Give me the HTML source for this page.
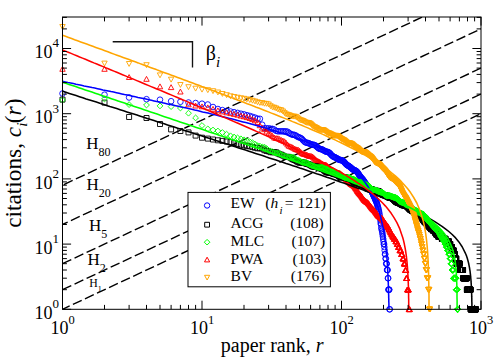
<!DOCTYPE html>
<html><head><meta charset="utf-8"><title>rank-citation profile</title>
<style>
html,body{margin:0;padding:0;background:#fff;}
body{width:498px;height:362px;overflow:hidden;}
svg{display:block;}
text{font-family:"Liberation Serif",serif;fill:#000;}
.tk{font-size:18px;}
.ax{font-size:20px;}
.ay{font-size:23.3px;}
.lg{font-size:15.5px;}
</style></head><body>
<svg width="498" height="362" viewBox="0 0 498 362">
<rect width="498" height="362" fill="#fff"/>
<defs><clipPath id="cp"><rect x="62.5" y="17" width="418.5" height="292.3"/></clipPath></defs>
<g clip-path="url(#cp)" stroke="#000" stroke-width="1.4" stroke-dasharray="9.7 3.6" fill="none">
<path d="M62.5 309.3L481 113.7" stroke-dashoffset="1.8"/>
<path d="M62.5 289.7L481 94.1" stroke-dashoffset="0"/>
<path d="M62.5 263.7L481 68.1" stroke-dashoffset="0"/>
<path d="M62.5 224.5L481 28.9" stroke-dashoffset="4"/>
<path d="M62.5 185.2L481 -10.4" stroke-dashoffset="-1.5"/>
</g>
<path d="M59.7 93.5a2.8 2.8 0 1 0 5.6 0a2.8 2.8 0 1 0 -5.6 0M101.7 94.7a2.8 2.8 0 1 0 5.6 0a2.8 2.8 0 1 0 -5.6 0M126.3 97.5a2.8 2.8 0 1 0 5.6 0a2.8 2.8 0 1 0 -5.6 0M143.7 99.2a2.8 2.8 0 1 0 5.6 0a2.8 2.8 0 1 0 -5.6 0M157.2 99.7a2.8 2.8 0 1 0 5.6 0a2.8 2.8 0 1 0 -5.6 0M168.3 101.2a2.8 2.8 0 1 0 5.6 0a2.8 2.8 0 1 0 -5.6 0M177.6 101.8a2.8 2.8 0 1 0 5.6 0a2.8 2.8 0 1 0 -5.6 0M185.7 102.5a2.8 2.8 0 1 0 5.6 0a2.8 2.8 0 1 0 -5.6 0M192.8 103a2.8 2.8 0 1 0 5.6 0a2.8 2.8 0 1 0 -5.6 0M199.2 103.7a2.8 2.8 0 1 0 5.6 0a2.8 2.8 0 1 0 -5.6 0M205 104.5a2.8 2.8 0 1 0 5.6 0a2.8 2.8 0 1 0 -5.6 0M210.2 107a2.8 2.8 0 1 0 5.6 0a2.8 2.8 0 1 0 -5.6 0M215.1 109a2.8 2.8 0 1 0 5.6 0a2.8 2.8 0 1 0 -5.6 0M219.6 110.1a2.8 2.8 0 1 0 5.6 0a2.8 2.8 0 1 0 -5.6 0M223.8 110.9a2.8 2.8 0 1 0 5.6 0a2.8 2.8 0 1 0 -5.6 0M227.7 111.5a2.8 2.8 0 1 0 5.6 0a2.8 2.8 0 1 0 -5.6 0M231.3 112.2a2.8 2.8 0 1 0 5.6 0a2.8 2.8 0 1 0 -5.6 0M234.8 112.9a2.8 2.8 0 1 0 5.6 0a2.8 2.8 0 1 0 -5.6 0M238.1 113.7a2.8 2.8 0 1 0 5.6 0a2.8 2.8 0 1 0 -5.6 0M241.2 114.4a2.8 2.8 0 1 0 5.6 0a2.8 2.8 0 1 0 -5.6 0M244.1 115.2a2.8 2.8 0 1 0 5.6 0a2.8 2.8 0 1 0 -5.6 0M247 115.9a2.8 2.8 0 1 0 5.6 0a2.8 2.8 0 1 0 -5.6 0M249.7 116.8a2.8 2.8 0 1 0 5.6 0a2.8 2.8 0 1 0 -5.6 0M252.2 117.6a2.8 2.8 0 1 0 5.6 0a2.8 2.8 0 1 0 -5.6 0M254.7 118.6a2.8 2.8 0 1 0 5.6 0a2.8 2.8 0 1 0 -5.6 0M257.1 118.8a2.8 2.8 0 1 0 5.6 0a2.8 2.8 0 1 0 -5.6 0M259.4 124.7a2.8 2.8 0 1 0 5.6 0a2.8 2.8 0 1 0 -5.6 0M261.6 128.3a2.8 2.8 0 1 0 5.6 0a2.8 2.8 0 1 0 -5.6 0M263.7 128.3a2.8 2.8 0 1 0 5.6 0a2.8 2.8 0 1 0 -5.6 0M265.8 128.3a2.8 2.8 0 1 0 5.6 0a2.8 2.8 0 1 0 -5.6 0M267.7 128.7a2.8 2.8 0 1 0 5.6 0a2.8 2.8 0 1 0 -5.6 0M269.7 128.9a2.8 2.8 0 1 0 5.6 0a2.8 2.8 0 1 0 -5.6 0M271.5 129.6a2.8 2.8 0 1 0 5.6 0a2.8 2.8 0 1 0 -5.6 0M273.3 130.8a2.8 2.8 0 1 0 5.6 0a2.8 2.8 0 1 0 -5.6 0M275.1 131.3a2.8 2.8 0 1 0 5.6 0a2.8 2.8 0 1 0 -5.6 0M276.8 131.3a2.8 2.8 0 1 0 5.6 0a2.8 2.8 0 1 0 -5.6 0M278.5 131.3a2.8 2.8 0 1 0 5.6 0a2.8 2.8 0 1 0 -5.6 0M280.1 131.3a2.8 2.8 0 1 0 5.6 0a2.8 2.8 0 1 0 -5.6 0M281.7 131.4a2.8 2.8 0 1 0 5.6 0a2.8 2.8 0 1 0 -5.6 0M283.2 131.4a2.8 2.8 0 1 0 5.6 0a2.8 2.8 0 1 0 -5.6 0M284.7 131.7a2.8 2.8 0 1 0 5.6 0a2.8 2.8 0 1 0 -5.6 0M286.1 132.7a2.8 2.8 0 1 0 5.6 0a2.8 2.8 0 1 0 -5.6 0M287.6 133.8a2.8 2.8 0 1 0 5.6 0a2.8 2.8 0 1 0 -5.6 0M289 134.5a2.8 2.8 0 1 0 5.6 0a2.8 2.8 0 1 0 -5.6 0M290.3 134.7a2.8 2.8 0 1 0 5.6 0a2.8 2.8 0 1 0 -5.6 0M291.7 134.9a2.8 2.8 0 1 0 5.6 0a2.8 2.8 0 1 0 -5.6 0M293 135.5a2.8 2.8 0 1 0 5.6 0a2.8 2.8 0 1 0 -5.6 0M294.2 136.4a2.8 2.8 0 1 0 5.6 0a2.8 2.8 0 1 0 -5.6 0M295.5 137.1a2.8 2.8 0 1 0 5.6 0a2.8 2.8 0 1 0 -5.6 0M296.7 137.5a2.8 2.8 0 1 0 5.6 0a2.8 2.8 0 1 0 -5.6 0M297.9 138a2.8 2.8 0 1 0 5.6 0a2.8 2.8 0 1 0 -5.6 0M299.1 138.9a2.8 2.8 0 1 0 5.6 0a2.8 2.8 0 1 0 -5.6 0M300.2 140.2a2.8 2.8 0 1 0 5.6 0a2.8 2.8 0 1 0 -5.6 0M301.4 141.4a2.8 2.8 0 1 0 5.6 0a2.8 2.8 0 1 0 -5.6 0M302.5 142.3a2.8 2.8 0 1 0 5.6 0a2.8 2.8 0 1 0 -5.6 0M303.6 142.7a2.8 2.8 0 1 0 5.6 0a2.8 2.8 0 1 0 -5.6 0M304.6 142.9a2.8 2.8 0 1 0 5.6 0a2.8 2.8 0 1 0 -5.6 0M305.7 143.1a2.8 2.8 0 1 0 5.6 0a2.8 2.8 0 1 0 -5.6 0M306.7 143.6a2.8 2.8 0 1 0 5.6 0a2.8 2.8 0 1 0 -5.6 0M307.8 144.1a2.8 2.8 0 1 0 5.6 0a2.8 2.8 0 1 0 -5.6 0M308.8 144.5a2.8 2.8 0 1 0 5.6 0a2.8 2.8 0 1 0 -5.6 0M309.7 144.7a2.8 2.8 0 1 0 5.6 0a2.8 2.8 0 1 0 -5.6 0M310.7 144.8a2.8 2.8 0 1 0 5.6 0a2.8 2.8 0 1 0 -5.6 0M311.7 145a2.8 2.8 0 1 0 5.6 0a2.8 2.8 0 1 0 -5.6 0M312.6 145.5a2.8 2.8 0 1 0 5.6 0a2.8 2.8 0 1 0 -5.6 0M313.5 146.2a2.8 2.8 0 1 0 5.6 0a2.8 2.8 0 1 0 -5.6 0M314.4 147.1a2.8 2.8 0 1 0 5.6 0a2.8 2.8 0 1 0 -5.6 0M315.3 147.9a2.8 2.8 0 1 0 5.6 0a2.8 2.8 0 1 0 -5.6 0M316.2 148.6a2.8 2.8 0 1 0 5.6 0a2.8 2.8 0 1 0 -5.6 0M317.1 148.9a2.8 2.8 0 1 0 5.6 0a2.8 2.8 0 1 0 -5.6 0M318 149.1a2.8 2.8 0 1 0 5.6 0a2.8 2.8 0 1 0 -5.6 0M318.8 149.3a2.8 2.8 0 1 0 5.6 0a2.8 2.8 0 1 0 -5.6 0M319.6 149.6a2.8 2.8 0 1 0 5.6 0a2.8 2.8 0 1 0 -5.6 0M320.5 150.1a2.8 2.8 0 1 0 5.6 0a2.8 2.8 0 1 0 -5.6 0M321.3 150.6a2.8 2.8 0 1 0 5.6 0a2.8 2.8 0 1 0 -5.6 0M322.1 151.1a2.8 2.8 0 1 0 5.6 0a2.8 2.8 0 1 0 -5.6 0M322.9 151.5a2.8 2.8 0 1 0 5.6 0a2.8 2.8 0 1 0 -5.6 0M323.6 151.7a2.8 2.8 0 1 0 5.6 0a2.8 2.8 0 1 0 -5.6 0M324.4 151.8a2.8 2.8 0 1 0 5.6 0a2.8 2.8 0 1 0 -5.6 0M325.2 152a2.8 2.8 0 1 0 5.6 0a2.8 2.8 0 1 0 -5.6 0M325.9 152.4a2.8 2.8 0 1 0 5.6 0a2.8 2.8 0 1 0 -5.6 0M326.7 152.9a2.8 2.8 0 1 0 5.6 0a2.8 2.8 0 1 0 -5.6 0M327.4 153.6a2.8 2.8 0 1 0 5.6 0a2.8 2.8 0 1 0 -5.6 0M328.1 154.5a2.8 2.8 0 1 0 5.6 0a2.8 2.8 0 1 0 -5.6 0M328.9 155.3a2.8 2.8 0 1 0 5.6 0a2.8 2.8 0 1 0 -5.6 0M329.6 156a2.8 2.8 0 1 0 5.6 0a2.8 2.8 0 1 0 -5.6 0M330.3 156.5a2.8 2.8 0 1 0 5.6 0a2.8 2.8 0 1 0 -5.6 0M331 156.9a2.8 2.8 0 1 0 5.6 0a2.8 2.8 0 1 0 -5.6 0M331.6 157.1a2.8 2.8 0 1 0 5.6 0a2.8 2.8 0 1 0 -5.6 0M332.3 157.4a2.8 2.8 0 1 0 5.6 0a2.8 2.8 0 1 0 -5.6 0M333 157.7a2.8 2.8 0 1 0 5.6 0a2.8 2.8 0 1 0 -5.6 0M333.6 158a2.8 2.8 0 1 0 5.6 0a2.8 2.8 0 1 0 -5.6 0M334.3 158.5a2.8 2.8 0 1 0 5.6 0a2.8 2.8 0 1 0 -5.6 0M335 158.9a2.8 2.8 0 1 0 5.6 0a2.8 2.8 0 1 0 -5.6 0M335.6 159.3a2.8 2.8 0 1 0 5.6 0a2.8 2.8 0 1 0 -5.6 0M336.2 159.7a2.8 2.8 0 1 0 5.6 0a2.8 2.8 0 1 0 -5.6 0M336.9 159.9a2.8 2.8 0 1 0 5.6 0a2.8 2.8 0 1 0 -5.6 0M337.5 160a2.8 2.8 0 1 0 5.6 0a2.8 2.8 0 1 0 -5.6 0M338.1 160.1a2.8 2.8 0 1 0 5.6 0a2.8 2.8 0 1 0 -5.6 0M338.7 160.2a2.8 2.8 0 1 0 5.6 0a2.8 2.8 0 1 0 -5.6 0M339.3 160.4a2.8 2.8 0 1 0 5.6 0a2.8 2.8 0 1 0 -5.6 0M339.9 160.7a2.8 2.8 0 1 0 5.6 0a2.8 2.8 0 1 0 -5.6 0M340.5 161.1a2.8 2.8 0 1 0 5.6 0a2.8 2.8 0 1 0 -5.6 0M341.1 161.7a2.8 2.8 0 1 0 5.6 0a2.8 2.8 0 1 0 -5.6 0M341.7 162.3a2.8 2.8 0 1 0 5.6 0a2.8 2.8 0 1 0 -5.6 0M342.2 163a2.8 2.8 0 1 0 5.6 0a2.8 2.8 0 1 0 -5.6 0M342.8 163.7a2.8 2.8 0 1 0 5.6 0a2.8 2.8 0 1 0 -5.6 0M343.4 164.2a2.8 2.8 0 1 0 5.6 0a2.8 2.8 0 1 0 -5.6 0M343.9 164.7a2.8 2.8 0 1 0 5.6 0a2.8 2.8 0 1 0 -5.6 0M344.5 165.2a2.8 2.8 0 1 0 5.6 0a2.8 2.8 0 1 0 -5.6 0M345 165.5a2.8 2.8 0 1 0 5.6 0a2.8 2.8 0 1 0 -5.6 0M345.6 165.8a2.8 2.8 0 1 0 5.6 0a2.8 2.8 0 1 0 -5.6 0M346.1 166.1a2.8 2.8 0 1 0 5.6 0a2.8 2.8 0 1 0 -5.6 0M346.6 166.5a2.8 2.8 0 1 0 5.6 0a2.8 2.8 0 1 0 -5.6 0M347.2 166.9a2.8 2.8 0 1 0 5.6 0a2.8 2.8 0 1 0 -5.6 0M347.7 167.3a2.8 2.8 0 1 0 5.6 0a2.8 2.8 0 1 0 -5.6 0M348.2 167.8a2.8 2.8 0 1 0 5.6 0a2.8 2.8 0 1 0 -5.6 0M348.7 168.3a2.8 2.8 0 1 0 5.6 0a2.8 2.8 0 1 0 -5.6 0M349.2 168.7a2.8 2.8 0 1 0 5.6 0a2.8 2.8 0 1 0 -5.6 0M349.7 169.2a2.8 2.8 0 1 0 5.6 0a2.8 2.8 0 1 0 -5.6 0M350.2 169.5a2.8 2.8 0 1 0 5.6 0a2.8 2.8 0 1 0 -5.6 0M350.7 169.8a2.8 2.8 0 1 0 5.6 0a2.8 2.8 0 1 0 -5.6 0M351.2 170a2.8 2.8 0 1 0 5.6 0a2.8 2.8 0 1 0 -5.6 0M351.7 170.2a2.8 2.8 0 1 0 5.6 0a2.8 2.8 0 1 0 -5.6 0M352.2 170.4a2.8 2.8 0 1 0 5.6 0a2.8 2.8 0 1 0 -5.6 0M352.7 170.7a2.8 2.8 0 1 0 5.6 0a2.8 2.8 0 1 0 -5.6 0M353.2 170.9a2.8 2.8 0 1 0 5.6 0a2.8 2.8 0 1 0 -5.6 0M353.7 171.3a2.8 2.8 0 1 0 5.6 0a2.8 2.8 0 1 0 -5.6 0M354.1 171.8a2.8 2.8 0 1 0 5.6 0a2.8 2.8 0 1 0 -5.6 0M354.6 172.3a2.8 2.8 0 1 0 5.6 0a2.8 2.8 0 1 0 -5.6 0M355.1 172.9a2.8 2.8 0 1 0 5.6 0a2.8 2.8 0 1 0 -5.6 0M355.5 173.6a2.8 2.8 0 1 0 5.6 0a2.8 2.8 0 1 0 -5.6 0M356 174.3a2.8 2.8 0 1 0 5.6 0a2.8 2.8 0 1 0 -5.6 0M356.4 175a2.8 2.8 0 1 0 5.6 0a2.8 2.8 0 1 0 -5.6 0M356.9 175.7a2.8 2.8 0 1 0 5.6 0a2.8 2.8 0 1 0 -5.6 0M357.3 176.3a2.8 2.8 0 1 0 5.6 0a2.8 2.8 0 1 0 -5.6 0M357.8 176.9a2.8 2.8 0 1 0 5.6 0a2.8 2.8 0 1 0 -5.6 0M358.2 177.5a2.8 2.8 0 1 0 5.6 0a2.8 2.8 0 1 0 -5.6 0M358.7 178a2.8 2.8 0 1 0 5.6 0a2.8 2.8 0 1 0 -5.6 0M359.1 178.5a2.8 2.8 0 1 0 5.6 0a2.8 2.8 0 1 0 -5.6 0M359.5 178.9a2.8 2.8 0 1 0 5.6 0a2.8 2.8 0 1 0 -5.6 0M359.9 179.4a2.8 2.8 0 1 0 5.6 0a2.8 2.8 0 1 0 -5.6 0M360.4 180a2.8 2.8 0 1 0 5.6 0a2.8 2.8 0 1 0 -5.6 0M360.8 180.5a2.8 2.8 0 1 0 5.6 0a2.8 2.8 0 1 0 -5.6 0M361.2 181.1a2.8 2.8 0 1 0 5.6 0a2.8 2.8 0 1 0 -5.6 0M361.6 181.7a2.8 2.8 0 1 0 5.6 0a2.8 2.8 0 1 0 -5.6 0M362 182.4a2.8 2.8 0 1 0 5.6 0a2.8 2.8 0 1 0 -5.6 0M362.5 183a2.8 2.8 0 1 0 5.6 0a2.8 2.8 0 1 0 -5.6 0M362.9 183.7a2.8 2.8 0 1 0 5.6 0a2.8 2.8 0 1 0 -5.6 0M363.3 184.3a2.8 2.8 0 1 0 5.6 0a2.8 2.8 0 1 0 -5.6 0M363.7 184.9a2.8 2.8 0 1 0 5.6 0a2.8 2.8 0 1 0 -5.6 0M364.1 185.4a2.8 2.8 0 1 0 5.6 0a2.8 2.8 0 1 0 -5.6 0M364.5 185.9a2.8 2.8 0 1 0 5.6 0a2.8 2.8 0 1 0 -5.6 0M364.9 186.3a2.8 2.8 0 1 0 5.6 0a2.8 2.8 0 1 0 -5.6 0M365.3 186.7a2.8 2.8 0 1 0 5.6 0a2.8 2.8 0 1 0 -5.6 0M365.6 187.1a2.8 2.8 0 1 0 5.6 0a2.8 2.8 0 1 0 -5.6 0M366 187.5a2.8 2.8 0 1 0 5.6 0a2.8 2.8 0 1 0 -5.6 0M366.4 187.9a2.8 2.8 0 1 0 5.6 0a2.8 2.8 0 1 0 -5.6 0M366.8 188.3a2.8 2.8 0 1 0 5.6 0a2.8 2.8 0 1 0 -5.6 0M367.2 188.8a2.8 2.8 0 1 0 5.6 0a2.8 2.8 0 1 0 -5.6 0M367.6 189.3a2.8 2.8 0 1 0 5.6 0a2.8 2.8 0 1 0 -5.6 0M367.9 189.9a2.8 2.8 0 1 0 5.6 0a2.8 2.8 0 1 0 -5.6 0M368.3 190.5a2.8 2.8 0 1 0 5.6 0a2.8 2.8 0 1 0 -5.6 0M368.7 191.1a2.8 2.8 0 1 0 5.6 0a2.8 2.8 0 1 0 -5.6 0M369 191.9a2.8 2.8 0 1 0 5.6 0a2.8 2.8 0 1 0 -5.6 0M369.4 192.6a2.8 2.8 0 1 0 5.6 0a2.8 2.8 0 1 0 -5.6 0M369.8 193.4a2.8 2.8 0 1 0 5.6 0a2.8 2.8 0 1 0 -5.6 0M370.1 194.2a2.8 2.8 0 1 0 5.6 0a2.8 2.8 0 1 0 -5.6 0M370.5 195a2.8 2.8 0 1 0 5.6 0a2.8 2.8 0 1 0 -5.6 0M370.8 195.8a2.8 2.8 0 1 0 5.6 0a2.8 2.8 0 1 0 -5.6 0M371.2 196.6a2.8 2.8 0 1 0 5.6 0a2.8 2.8 0 1 0 -5.6 0M371.6 197.3a2.8 2.8 0 1 0 5.6 0a2.8 2.8 0 1 0 -5.6 0M371.9 198.1a2.8 2.8 0 1 0 5.6 0a2.8 2.8 0 1 0 -5.6 0M372.3 198.9a2.8 2.8 0 1 0 5.6 0a2.8 2.8 0 1 0 -5.6 0M372.6 199.7a2.8 2.8 0 1 0 5.6 0a2.8 2.8 0 1 0 -5.6 0M372.9 200.5a2.8 2.8 0 1 0 5.6 0a2.8 2.8 0 1 0 -5.6 0M373.3 201.3a2.8 2.8 0 1 0 5.6 0a2.8 2.8 0 1 0 -5.6 0M373.6 202.2a2.8 2.8 0 1 0 5.6 0a2.8 2.8 0 1 0 -5.6 0M374 203.1a2.8 2.8 0 1 0 5.6 0a2.8 2.8 0 1 0 -5.6 0M374.3 204.1a2.8 2.8 0 1 0 5.6 0a2.8 2.8 0 1 0 -5.6 0M374.6 205.2a2.8 2.8 0 1 0 5.6 0a2.8 2.8 0 1 0 -5.6 0M375 206.4a2.8 2.8 0 1 0 5.6 0a2.8 2.8 0 1 0 -5.6 0M375.3 207.6a2.8 2.8 0 1 0 5.6 0a2.8 2.8 0 1 0 -5.6 0M375.6 209a2.8 2.8 0 1 0 5.6 0a2.8 2.8 0 1 0 -5.6 0M376 210.4a2.8 2.8 0 1 0 5.6 0a2.8 2.8 0 1 0 -5.6 0M376.3 212a2.8 2.8 0 1 0 5.6 0a2.8 2.8 0 1 0 -5.6 0M376.6 213.7a2.8 2.8 0 1 0 5.6 0a2.8 2.8 0 1 0 -5.6 0M376.9 215.8a2.8 2.8 0 1 0 5.6 0a2.8 2.8 0 1 0 -5.6 0M377.3 218.1a2.8 2.8 0 1 0 5.6 0a2.8 2.8 0 1 0 -5.6 0M377.6 220.5a2.8 2.8 0 1 0 5.6 0a2.8 2.8 0 1 0 -5.6 0M377.9 223.1a2.8 2.8 0 1 0 5.6 0a2.8 2.8 0 1 0 -5.6 0M378.2 224.5a2.8 2.8 0 1 0 5.6 0a2.8 2.8 0 1 0 -5.6 0M378.5 227.5a2.8 2.8 0 1 0 5.6 0a2.8 2.8 0 1 0 -5.6 0M378.8 229.1a2.8 2.8 0 1 0 5.6 0a2.8 2.8 0 1 0 -5.6 0M379.2 230.8a2.8 2.8 0 1 0 5.6 0a2.8 2.8 0 1 0 -5.6 0M379.5 232.6a2.8 2.8 0 1 0 5.6 0a2.8 2.8 0 1 0 -5.6 0M379.8 234.6a2.8 2.8 0 1 0 5.6 0a2.8 2.8 0 1 0 -5.6 0M380.1 236.7a2.8 2.8 0 1 0 5.6 0a2.8 2.8 0 1 0 -5.6 0M380.4 238.9a2.8 2.8 0 1 0 5.6 0a2.8 2.8 0 1 0 -5.6 0M380.7 241.4a2.8 2.8 0 1 0 5.6 0a2.8 2.8 0 1 0 -5.6 0M381 244.1a2.8 2.8 0 1 0 5.6 0a2.8 2.8 0 1 0 -5.6 0M381.3 244.1a2.8 2.8 0 1 0 5.6 0a2.8 2.8 0 1 0 -5.6 0M381.6 247.1a2.8 2.8 0 1 0 5.6 0a2.8 2.8 0 1 0 -5.6 0M381.9 250.4a2.8 2.8 0 1 0 5.6 0a2.8 2.8 0 1 0 -5.6 0M382.2 254.2a2.8 2.8 0 1 0 5.6 0a2.8 2.8 0 1 0 -5.6 0M382.5 254.2a2.8 2.8 0 1 0 5.6 0a2.8 2.8 0 1 0 -5.6 0M382.8 258.6a2.8 2.8 0 1 0 5.6 0a2.8 2.8 0 1 0 -5.6 0M383.1 258.6a2.8 2.8 0 1 0 5.6 0a2.8 2.8 0 1 0 -5.6 0M383.4 263.7a2.8 2.8 0 1 0 5.6 0a2.8 2.8 0 1 0 -5.6 0M383.6 263.7a2.8 2.8 0 1 0 5.6 0a2.8 2.8 0 1 0 -5.6 0M383.9 263.7a2.8 2.8 0 1 0 5.6 0a2.8 2.8 0 1 0 -5.6 0M384.2 270a2.8 2.8 0 1 0 5.6 0a2.8 2.8 0 1 0 -5.6 0M384.5 270a2.8 2.8 0 1 0 5.6 0a2.8 2.8 0 1 0 -5.6 0M384.8 270a2.8 2.8 0 1 0 5.6 0a2.8 2.8 0 1 0 -5.6 0M385.1 278.2a2.8 2.8 0 1 0 5.6 0a2.8 2.8 0 1 0 -5.6 0M385.4 278.2a2.8 2.8 0 1 0 5.6 0a2.8 2.8 0 1 0 -5.6 0M385.6 289.7a2.8 2.8 0 1 0 5.6 0a2.8 2.8 0 1 0 -5.6 0M385.9 289.7a2.8 2.8 0 1 0 5.6 0a2.8 2.8 0 1 0 -5.6 0M386.2 289.7a2.8 2.8 0 1 0 5.6 0a2.8 2.8 0 1 0 -5.6 0M386.5 289.7a2.8 2.8 0 1 0 5.6 0a2.8 2.8 0 1 0 -5.6 0M386.7 309.3a2.8 2.8 0 1 0 5.6 0a2.8 2.8 0 1 0 -5.6 0M387 309.3a2.8 2.8 0 1 0 5.6 0a2.8 2.8 0 1 0 -5.6 0" fill="none" stroke="#0000ff" stroke-width="0.9"/>
<path d="M62.5 66.4l2.7 4.9h-5.4zM104.5 66.4l2.7 4.9h-5.4zM129.1 74.6l2.7 4.9h-5.4zM146.5 76.4l2.7 4.9h-5.4zM160 83.9l2.7 4.9h-5.4zM171.1 84.7l2.7 4.9h-5.4zM180.4 89.1l2.7 4.9h-5.4zM188.5 101.9l2.7 4.9h-5.4zM195.6 103.1l2.7 4.9h-5.4zM202 103.9l2.7 4.9h-5.4zM207.8 104.9l2.7 4.9h-5.4zM213 106.4l2.7 4.9h-5.4zM217.9 107.9l2.7 4.9h-5.4zM222.4 109l2.7 4.9h-5.4zM226.6 109.9l2.7 4.9h-5.4zM230.5 110.7l2.7 4.9h-5.4zM234.1 111.5l2.7 4.9h-5.4zM237.6 112.3l2.7 4.9h-5.4zM240.9 113.2l2.7 4.9h-5.4zM244 113.9l2.7 4.9h-5.4zM246.9 114.7l2.7 4.9h-5.4zM249.8 115.6l2.7 4.9h-5.4zM252.5 116.7l2.7 4.9h-5.4zM255 117.9l2.7 4.9h-5.4zM257.5 119.7l2.7 4.9h-5.4zM259.9 122.8l2.7 4.9h-5.4zM262.2 125.2l2.7 4.9h-5.4zM264.4 126.8l2.7 4.9h-5.4zM266.5 129.1l2.7 4.9h-5.4zM268.6 130.8l2.7 4.9h-5.4zM270.5 131.8l2.7 4.9h-5.4zM272.5 133.4l2.7 4.9h-5.4zM274.3 135.1l2.7 4.9h-5.4zM276.1 135.6l2.7 4.9h-5.4zM277.9 135.8l2.7 4.9h-5.4zM279.6 136.5l2.7 4.9h-5.4zM281.3 137.5l2.7 4.9h-5.4zM282.9 138.1l2.7 4.9h-5.4zM284.5 138.8l2.7 4.9h-5.4zM286 140.2l2.7 4.9h-5.4zM287.5 142l2.7 4.9h-5.4zM288.9 143.3l2.7 4.9h-5.4zM290.4 143.9l2.7 4.9h-5.4zM291.8 144.4l2.7 4.9h-5.4zM293.1 145.2l2.7 4.9h-5.4zM294.5 146.1l2.7 4.9h-5.4zM295.8 146.7l2.7 4.9h-5.4zM297 147l2.7 4.9h-5.4zM298.3 147.4l2.7 4.9h-5.4zM299.5 148.3l2.7 4.9h-5.4zM300.7 149.5l2.7 4.9h-5.4zM301.9 150.6l2.7 4.9h-5.4zM303 151.2l2.7 4.9h-5.4zM304.2 151.5l2.7 4.9h-5.4zM305.3 151.7l2.7 4.9h-5.4zM306.4 152.1l2.7 4.9h-5.4zM307.4 152.6l2.7 4.9h-5.4zM308.5 153.1l2.7 4.9h-5.4zM309.5 153.4l2.7 4.9h-5.4zM310.6 153.5l2.7 4.9h-5.4zM311.6 153.7l2.7 4.9h-5.4zM312.5 154.1l2.7 4.9h-5.4zM313.5 154.9l2.7 4.9h-5.4zM314.5 155.9l2.7 4.9h-5.4zM315.4 156.9l2.7 4.9h-5.4zM316.3 157.7l2.7 4.9h-5.4zM317.2 158.3l2.7 4.9h-5.4zM318.1 158.7l2.7 4.9h-5.4zM319 159.1l2.7 4.9h-5.4zM319.9 159.6l2.7 4.9h-5.4zM320.8 160.2l2.7 4.9h-5.4zM321.6 160.9l2.7 4.9h-5.4zM322.4 161.4l2.7 4.9h-5.4zM323.3 161.8l2.7 4.9h-5.4zM324.1 162l2.7 4.9h-5.4zM324.9 162.1l2.7 4.9h-5.4zM325.7 162.3l2.7 4.9h-5.4zM326.4 162.7l2.7 4.9h-5.4zM327.2 163.3l2.7 4.9h-5.4zM328 164.1l2.7 4.9h-5.4zM328.7 164.9l2.7 4.9h-5.4zM329.5 165.7l2.7 4.9h-5.4zM330.2 166.3l2.7 4.9h-5.4zM330.9 166.8l2.7 4.9h-5.4zM331.7 167.1l2.7 4.9h-5.4zM332.4 167.4l2.7 4.9h-5.4zM333.1 167.7l2.7 4.9h-5.4zM333.8 168.2l2.7 4.9h-5.4zM334.4 168.6l2.7 4.9h-5.4zM335.1 169.1l2.7 4.9h-5.4zM335.8 169.6l2.7 4.9h-5.4zM336.4 170l2.7 4.9h-5.4zM337.1 170.2l2.7 4.9h-5.4zM337.8 170.3l2.7 4.9h-5.4zM338.4 170.4l2.7 4.9h-5.4zM339 170.4l2.7 4.9h-5.4zM339.7 170.6l2.7 4.9h-5.4zM340.3 170.9l2.7 4.9h-5.4zM340.9 171.4l2.7 4.9h-5.4zM341.5 172l2.7 4.9h-5.4zM342.1 172.7l2.7 4.9h-5.4zM342.7 173.4l2.7 4.9h-5.4zM343.3 174.1l2.7 4.9h-5.4zM343.9 174.7l2.7 4.9h-5.4zM344.5 175.2l2.7 4.9h-5.4zM345 175.7l2.7 4.9h-5.4zM345.6 176.1l2.7 4.9h-5.4zM346.2 176.5l2.7 4.9h-5.4zM346.7 177l2.7 4.9h-5.4zM347.3 177.5l2.7 4.9h-5.4zM347.8 178.1l2.7 4.9h-5.4zM348.4 178.7l2.7 4.9h-5.4zM348.9 179.4l2.7 4.9h-5.4zM349.4 180l2.7 4.9h-5.4zM350 180.6l2.7 4.9h-5.4zM350.5 181.1l2.7 4.9h-5.4zM351 181.5l2.7 4.9h-5.4zM351.5 181.8l2.7 4.9h-5.4zM352 182.1l2.7 4.9h-5.4zM352.5 182.4l2.7 4.9h-5.4zM353 182.7l2.7 4.9h-5.4zM353.5 183.1l2.7 4.9h-5.4zM354 183.6l2.7 4.9h-5.4zM354.5 184.2l2.7 4.9h-5.4zM355 184.9l2.7 4.9h-5.4zM355.5 185.6l2.7 4.9h-5.4zM356 186.3l2.7 4.9h-5.4zM356.5 187.1l2.7 4.9h-5.4zM356.9 187.9l2.7 4.9h-5.4zM357.4 188.6l2.7 4.9h-5.4zM357.9 189.2l2.7 4.9h-5.4zM358.3 189.8l2.7 4.9h-5.4zM358.8 190.4l2.7 4.9h-5.4zM359.2 190.9l2.7 4.9h-5.4zM359.7 191.4l2.7 4.9h-5.4zM360.1 191.9l2.7 4.9h-5.4zM360.6 192.4l2.7 4.9h-5.4zM361 193l2.7 4.9h-5.4zM361.5 193.6l2.7 4.9h-5.4zM361.9 194.3l2.7 4.9h-5.4zM362.3 194.9l2.7 4.9h-5.4zM362.7 195.6l2.7 4.9h-5.4zM363.2 196.2l2.7 4.9h-5.4zM363.6 196.7l2.7 4.9h-5.4zM364 197.3l2.7 4.9h-5.4zM364.4 197.7l2.7 4.9h-5.4zM364.8 198.1l2.7 4.9h-5.4zM365.3 198.4l2.7 4.9h-5.4zM365.7 198.7l2.7 4.9h-5.4zM366.1 199l2.7 4.9h-5.4zM366.5 199.2l2.7 4.9h-5.4zM366.9 199.5l2.7 4.9h-5.4zM367.3 199.8l2.7 4.9h-5.4zM367.7 200.1l2.7 4.9h-5.4zM368.1 200.5l2.7 4.9h-5.4zM368.4 200.9l2.7 4.9h-5.4zM368.8 201.4l2.7 4.9h-5.4zM369.2 201.9l2.7 4.9h-5.4zM369.6 202.4l2.7 4.9h-5.4zM370 203l2.7 4.9h-5.4zM370.4 203.5l2.7 4.9h-5.4zM370.7 204l2.7 4.9h-5.4zM371.1 204.5l2.7 4.9h-5.4zM371.5 205l2.7 4.9h-5.4zM371.8 205.4l2.7 4.9h-5.4zM372.2 205.8l2.7 4.9h-5.4zM372.6 206.2l2.7 4.9h-5.4zM372.9 206.5l2.7 4.9h-5.4zM373.3 206.9l2.7 4.9h-5.4zM373.6 207.2l2.7 4.9h-5.4zM374 207.6l2.7 4.9h-5.4zM374.4 208l2.7 4.9h-5.4zM374.7 208.4l2.7 4.9h-5.4zM375.1 208.9l2.7 4.9h-5.4zM375.4 209.3l2.7 4.9h-5.4zM375.7 209.8l2.7 4.9h-5.4zM376.1 210.3l2.7 4.9h-5.4zM376.4 210.8l2.7 4.9h-5.4zM376.8 211.3l2.7 4.9h-5.4zM377.1 211.8l2.7 4.9h-5.4zM377.4 212.2l2.7 4.9h-5.4zM377.8 212.6l2.7 4.9h-5.4zM378.1 213l2.7 4.9h-5.4zM378.4 213.3l2.7 4.9h-5.4zM378.8 213.6l2.7 4.9h-5.4zM379.1 213.8l2.7 4.9h-5.4zM379.4 214.1l2.7 4.9h-5.4zM379.7 214.3l2.7 4.9h-5.4zM380.1 214.5l2.7 4.9h-5.4zM380.4 214.7l2.7 4.9h-5.4zM380.7 214.9l2.7 4.9h-5.4zM381 215.2l2.7 4.9h-5.4zM381.3 215.4l2.7 4.9h-5.4zM381.6 215.6l2.7 4.9h-5.4zM382 215.6l2.7 4.9h-5.4zM382.3 216.7l2.7 4.9h-5.4zM382.6 216.7l2.7 4.9h-5.4zM382.9 216.7l2.7 4.9h-5.4zM383.2 217.9l2.7 4.9h-5.4zM383.5 217.9l2.7 4.9h-5.4zM383.8 219.2l2.7 4.9h-5.4zM384.1 219.2l2.7 4.9h-5.4zM384.4 219.2l2.7 4.9h-5.4zM384.7 220.5l2.7 4.9h-5.4zM385 220.5l2.7 4.9h-5.4zM385.3 220.5l2.7 4.9h-5.4zM385.6 221.9l2.7 4.9h-5.4zM385.9 221.9l2.7 4.9h-5.4zM386.2 221.9l2.7 4.9h-5.4zM386.4 221.9l2.7 4.9h-5.4zM386.7 223.3l2.7 4.9h-5.4zM387 223.3l2.7 4.9h-5.4zM387.3 223.3l2.7 4.9h-5.4zM387.6 223.3l2.7 4.9h-5.4zM387.9 224.9l2.7 4.9h-5.4zM388.2 224.9l2.7 4.9h-5.4zM388.4 224.9l2.7 4.9h-5.4zM388.7 226.5l2.7 4.9h-5.4zM389 226.5l2.7 4.9h-5.4zM389.3 226.5l2.7 4.9h-5.4zM389.5 228.2l2.7 4.9h-5.4zM389.8 228.2l2.7 4.9h-5.4zM390.1 228.2l2.7 4.9h-5.4zM390.4 230l2.7 4.9h-5.4zM390.6 230l2.7 4.9h-5.4zM390.9 230l2.7 4.9h-5.4zM391.2 230l2.7 4.9h-5.4zM391.4 232l2.7 4.9h-5.4zM391.7 232l2.7 4.9h-5.4zM392 232l2.7 4.9h-5.4zM392.2 232l2.7 4.9h-5.4zM392.5 234.1l2.7 4.9h-5.4zM392.7 234.1l2.7 4.9h-5.4zM393 234.1l2.7 4.9h-5.4zM393.3 234.1l2.7 4.9h-5.4zM393.5 234.1l2.7 4.9h-5.4zM393.8 234.1l2.7 4.9h-5.4zM394 236.3l2.7 4.9h-5.4zM394.3 236.3l2.7 4.9h-5.4zM394.5 236.3l2.7 4.9h-5.4zM394.8 236.3l2.7 4.9h-5.4zM395 236.3l2.7 4.9h-5.4zM395.3 236.3l2.7 4.9h-5.4zM395.5 238.8l2.7 4.9h-5.4zM395.8 238.8l2.7 4.9h-5.4zM396 238.8l2.7 4.9h-5.4zM396.3 238.8l2.7 4.9h-5.4zM396.5 238.8l2.7 4.9h-5.4zM396.8 238.8l2.7 4.9h-5.4zM397 241.5l2.7 4.9h-5.4zM397.3 241.5l2.7 4.9h-5.4zM397.5 241.5l2.7 4.9h-5.4zM397.7 241.5l2.7 4.9h-5.4zM398 241.5l2.7 4.9h-5.4zM398.2 244.5l2.7 4.9h-5.4zM398.4 244.5l2.7 4.9h-5.4zM398.7 244.5l2.7 4.9h-5.4zM398.9 244.5l2.7 4.9h-5.4zM399.2 244.5l2.7 4.9h-5.4zM399.4 244.5l2.7 4.9h-5.4zM399.6 247.8l2.7 4.9h-5.4zM399.9 247.8l2.7 4.9h-5.4zM400.1 247.8l2.7 4.9h-5.4zM400.3 247.8l2.7 4.9h-5.4zM400.5 247.8l2.7 4.9h-5.4zM400.8 247.8l2.7 4.9h-5.4zM401 247.8l2.7 4.9h-5.4zM401.2 251.6l2.7 4.9h-5.4zM401.5 251.6l2.7 4.9h-5.4zM401.7 251.6l2.7 4.9h-5.4zM401.9 251.6l2.7 4.9h-5.4zM402.1 251.6l2.7 4.9h-5.4zM402.3 251.6l2.7 4.9h-5.4zM402.6 256l2.7 4.9h-5.4zM402.8 256l2.7 4.9h-5.4zM403 256l2.7 4.9h-5.4zM403.2 256l2.7 4.9h-5.4zM403.4 256l2.7 4.9h-5.4zM403.7 256l2.7 4.9h-5.4zM403.9 261.1l2.7 4.9h-5.4zM404.1 261.1l2.7 4.9h-5.4zM404.3 261.1l2.7 4.9h-5.4zM404.5 261.1l2.7 4.9h-5.4zM404.7 261.1l2.7 4.9h-5.4zM405 261.1l2.7 4.9h-5.4zM405.2 267.5l2.7 4.9h-5.4zM405.4 267.5l2.7 4.9h-5.4zM405.6 267.5l2.7 4.9h-5.4zM405.8 267.5l2.7 4.9h-5.4zM406 267.5l2.7 4.9h-5.4zM406.2 275.6l2.7 4.9h-5.4zM406.4 275.6l2.7 4.9h-5.4zM406.6 275.6l2.7 4.9h-5.4zM406.8 275.6l2.7 4.9h-5.4zM407 275.6l2.7 4.9h-5.4zM407.2 287.1l2.7 4.9h-5.4zM407.4 287.1l2.7 4.9h-5.4zM407.7 287.1l2.7 4.9h-5.4zM407.9 287.1l2.7 4.9h-5.4zM408.1 287.1l2.7 4.9h-5.4zM408.3 287.1l2.7 4.9h-5.4zM408.5 287.1l2.7 4.9h-5.4zM408.7 287.1l2.7 4.9h-5.4zM408.9 306.7l2.7 4.9h-5.4zM409.1 306.7l2.7 4.9h-5.4zM409.3 306.7l2.7 4.9h-5.4zM409.5 306.7l2.7 4.9h-5.4zM409.7 306.7l2.7 4.9h-5.4z" fill="none" stroke="#ff0000" stroke-width="0.9"/>
<path d="M60 97.1h5v5h-5zM102 100.1h5v5h-5zM126.6 114.5h5v5h-5zM144 115.5h5v5h-5zM157.5 121.5h5v5h-5zM168.6 126.9h5v5h-5zM177.9 128.5h5v5h-5zM186 129.9h5v5h-5zM193.1 133.1h5v5h-5zM199.5 135.2h5v5h-5zM205.3 136.1h5v5h-5zM210.5 137h5v5h-5zM215.4 137.8h5v5h-5zM219.9 138.4h5v5h-5zM224.1 139h5v5h-5zM228 139.6h5v5h-5zM231.6 140.5h5v5h-5zM235.1 141.4h5v5h-5zM238.4 142.2h5v5h-5zM241.5 142.8h5v5h-5zM244.4 143.4h5v5h-5zM247.3 143.9h5v5h-5zM250 144.6h5v5h-5zM252.5 145.2h5v5h-5zM255 145.8h5v5h-5zM257.4 145.8h5v5h-5zM259.7 146.1h5v5h-5zM261.9 147.7h5v5h-5zM264 148.4h5v5h-5zM266.1 148.8h5v5h-5zM268 149.7h5v5h-5zM270 149.7h5v5h-5zM271.8 149.7h5v5h-5zM273.6 149.8h5v5h-5zM275.4 150.9h5v5h-5zM277.1 151.7h5v5h-5zM278.8 152.2h5v5h-5zM280.4 153h5v5h-5zM282 154h5v5h-5zM283.5 154.4h5v5h-5zM285 154.4h5v5h-5zM286.4 154.4h5v5h-5zM287.9 155.2h5v5h-5zM289.3 156.2h5v5h-5zM290.6 157h5v5h-5zM292 157.5h5v5h-5zM293.3 158.1h5v5h-5zM294.5 158.9h5v5h-5zM295.8 159.7h5v5h-5zM297 160.1h5v5h-5zM298.2 160.1h5v5h-5zM299.4 160.1h5v5h-5zM300.5 160.1h5v5h-5zM301.7 160.1h5v5h-5zM302.8 160.7h5v5h-5zM303.9 161.2h5v5h-5zM304.9 161.5h5v5h-5zM306 161.7h5v5h-5zM307 162.1h5v5h-5zM308.1 162.7h5v5h-5zM309.1 163.4h5v5h-5zM310 163.9h5v5h-5zM311 164.1h5v5h-5zM312 164.1h5v5h-5zM312.9 164.1h5v5h-5zM313.8 164.1h5v5h-5zM314.7 164.1h5v5h-5zM315.6 164.6h5v5h-5zM316.5 165.1h5v5h-5zM317.4 165.6h5v5h-5zM318.3 166h5v5h-5zM319.1 166.3h5v5h-5zM319.9 166.6h5v5h-5zM320.8 167h5v5h-5zM321.6 167.7h5v5h-5zM322.4 168.4h5v5h-5zM323.2 169.1h5v5h-5zM323.9 169.6h5v5h-5zM324.7 169.9h5v5h-5zM325.5 170h5v5h-5zM326.2 170h5v5h-5zM327 170h5v5h-5zM327.7 170h5v5h-5zM328.4 170.1h5v5h-5zM329.2 170.4h5v5h-5zM329.9 170.8h5v5h-5zM330.6 171.1h5v5h-5zM331.3 171.4h5v5h-5zM331.9 171.6h5v5h-5zM332.6 171.7h5v5h-5zM333.3 171.8h5v5h-5zM333.9 172h5v5h-5zM334.6 172.3h5v5h-5zM335.3 172.6h5v5h-5zM335.9 173.1h5v5h-5zM336.5 173.6h5v5h-5zM337.2 174.1h5v5h-5zM337.8 174.5h5v5h-5zM338.4 174.7h5v5h-5zM339 174.8h5v5h-5zM339.6 174.8h5v5h-5zM340.2 174.8h5v5h-5zM340.8 174.8h5v5h-5zM341.4 174.8h5v5h-5zM342 174.8h5v5h-5zM342.5 174.8h5v5h-5zM343.1 175.1h5v5h-5zM343.7 175.3h5v5h-5zM344.2 175.6h5v5h-5zM344.8 175.8h5v5h-5zM345.3 176h5v5h-5zM345.9 176.1h5v5h-5zM346.4 176.2h5v5h-5zM346.9 176.3h5v5h-5zM347.5 176.5h5v5h-5zM348 176.7h5v5h-5zM348.5 177h5v5h-5zM349 177.4h5v5h-5zM349.5 177.8h5v5h-5zM350 178.3h5v5h-5zM350.5 178.8h5v5h-5zM351 179.3h5v5h-5zM351.5 179.7h5v5h-5zM352 180h5v5h-5zM352.5 180.3h5v5h-5zM353 180.4h5v5h-5zM353.5 180.5h5v5h-5zM354 180.6h5v5h-5zM354.4 180.6h5v5h-5zM354.9 180.7h5v5h-5zM355.4 180.8h5v5h-5zM355.8 180.9h5v5h-5zM356.3 181.1h5v5h-5zM356.7 181.3h5v5h-5zM357.2 181.6h5v5h-5zM357.6 181.9h5v5h-5zM358.1 182.1h5v5h-5zM358.5 182.3h5v5h-5zM359 182.5h5v5h-5zM359.4 182.6h5v5h-5zM359.8 182.7h5v5h-5zM360.2 182.8h5v5h-5zM360.7 182.9h5v5h-5zM361.1 183h5v5h-5zM361.5 183.1h5v5h-5zM361.9 183.3h5v5h-5zM362.3 183.5h5v5h-5zM362.8 183.8h5v5h-5zM363.2 184.1h5v5h-5zM363.6 184.5h5v5h-5zM364 184.8h5v5h-5zM364.4 185.2h5v5h-5zM364.8 185.6h5v5h-5zM365.2 185.9h5v5h-5zM365.6 186.2h5v5h-5zM365.9 186.4h5v5h-5zM366.3 186.6h5v5h-5zM366.7 186.7h5v5h-5zM367.1 186.8h5v5h-5zM367.5 186.8h5v5h-5zM367.9 186.9h5v5h-5zM368.2 186.9h5v5h-5zM368.6 186.9h5v5h-5zM369 186.9h5v5h-5zM369.3 187h5v5h-5zM369.7 187.1h5v5h-5zM370.1 187.2h5v5h-5zM370.4 187.3h5v5h-5zM370.8 187.5h5v5h-5zM371.1 187.7h5v5h-5zM371.5 187.8h5v5h-5zM371.9 188h5v5h-5zM372.2 188.1h5v5h-5zM372.6 188.2h5v5h-5zM372.9 188.3h5v5h-5zM373.2 188.3h5v5h-5zM373.6 188.4h5v5h-5zM373.9 188.4h5v5h-5zM374.3 188.4h5v5h-5zM374.6 188.4h5v5h-5zM374.9 188.5h5v5h-5zM375.3 188.5h5v5h-5zM375.6 188.6h5v5h-5zM375.9 188.8h5v5h-5zM376.3 188.9h5v5h-5zM376.6 189.2h5v5h-5zM376.9 189.4h5v5h-5zM377.2 189.7h5v5h-5zM377.6 190h5v5h-5zM377.9 190.3h5v5h-5zM378.2 190.7h5v5h-5zM378.5 191h5v5h-5zM378.8 191.3h5v5h-5zM379.1 191.5h5v5h-5zM379.5 191.8h5v5h-5zM379.8 192h5v5h-5zM380.1 192.2h5v5h-5zM380.4 192.3h5v5h-5zM380.7 192.4h5v5h-5zM381 192.5h5v5h-5zM381.3 192.6h5v5h-5zM381.6 192.7h5v5h-5zM381.9 192.7h5v5h-5zM382.2 192.8h5v5h-5zM382.5 192.9h5v5h-5zM382.8 193h5v5h-5zM383.1 193.1h5v5h-5zM383.4 193.2h5v5h-5zM383.7 193.3h5v5h-5zM383.9 193.5h5v5h-5zM384.2 193.7h5v5h-5zM384.5 193.8h5v5h-5zM384.8 194h5v5h-5zM385.1 194.2h5v5h-5zM385.4 194.4h5v5h-5zM385.7 194.5h5v5h-5zM385.9 194.7h5v5h-5zM386.2 194.8h5v5h-5zM386.5 194.9h5v5h-5zM386.8 195h5v5h-5zM387 195.1h5v5h-5zM387.3 195.1h5v5h-5zM387.6 195.2h5v5h-5zM387.9 195.2h5v5h-5zM388.1 195.2h5v5h-5zM388.4 195.3h5v5h-5zM388.7 195.3h5v5h-5zM388.9 195.4h5v5h-5zM389.2 195.5h5v5h-5zM389.5 195.6h5v5h-5zM389.7 195.7h5v5h-5zM390 195.9h5v5h-5zM390.2 196h5v5h-5zM390.5 196.2h5v5h-5zM390.8 196.5h5v5h-5zM391 196.7h5v5h-5zM391.3 197h5v5h-5zM391.5 197.2h5v5h-5zM391.8 197.5h5v5h-5zM392 197.8h5v5h-5zM392.3 198.1h5v5h-5zM392.5 198.3h5v5h-5zM392.8 198.6h5v5h-5zM393 198.8h5v5h-5zM393.3 199h5v5h-5zM393.5 199.2h5v5h-5zM393.8 199.4h5v5h-5zM394 199.5h5v5h-5zM394.3 199.7h5v5h-5zM394.5 199.8h5v5h-5zM394.8 199.9h5v5h-5zM395 200h5v5h-5zM395.2 200.1h5v5h-5zM395.5 200.1h5v5h-5zM395.7 200.2h5v5h-5zM395.9 200.3h5v5h-5zM396.2 200.4h5v5h-5zM396.4 200.5h5v5h-5zM396.7 200.6h5v5h-5zM396.9 200.7h5v5h-5zM397.1 200.8h5v5h-5zM397.4 200.9h5v5h-5zM397.6 201h5v5h-5zM397.8 201.2h5v5h-5zM398 201.3h5v5h-5zM398.3 201.5h5v5h-5zM398.5 201.6h5v5h-5zM398.7 201.8h5v5h-5zM399 201.9h5v5h-5zM399.2 202h5v5h-5zM399.4 202.2h5v5h-5zM399.6 202.3h5v5h-5zM399.8 202.4h5v5h-5zM400.1 202.5h5v5h-5zM400.3 202.6h5v5h-5zM400.5 202.6h5v5h-5zM400.7 202.7h5v5h-5zM400.9 202.7h5v5h-5zM401.2 202.8h5v5h-5zM401.4 202.8h5v5h-5zM401.6 202.8h5v5h-5zM401.8 202.8h5v5h-5zM402 202.9h5v5h-5zM402.2 202.9h5v5h-5zM402.5 202.9h5v5h-5zM402.7 202.9h5v5h-5zM402.9 203h5v5h-5zM403.1 203h5v5h-5zM403.3 203.1h5v5h-5zM403.5 203.2h5v5h-5zM403.7 203.3h5v5h-5zM403.9 203.4h5v5h-5zM404.1 203.6h5v5h-5zM404.3 203.7h5v5h-5zM404.5 203.9h5v5h-5zM404.7 204.1h5v5h-5zM404.9 204.3h5v5h-5zM405.2 204.5h5v5h-5zM405.4 204.7h5v5h-5zM405.6 204.9h5v5h-5zM405.8 205.1h5v5h-5zM406 205.4h5v5h-5zM406.2 205.6h5v5h-5zM406.4 205.8h5v5h-5zM406.6 206h5v5h-5zM406.8 206.2h5v5h-5zM407 206.4h5v5h-5zM407.2 206.6h5v5h-5zM407.3 206.8h5v5h-5zM407.5 206.9h5v5h-5zM407.7 207.1h5v5h-5zM407.9 207.2h5v5h-5zM408.1 207.4h5v5h-5zM408.3 207.5h5v5h-5zM408.5 207.6h5v5h-5zM408.7 207.7h5v5h-5zM408.9 207.8h5v5h-5zM409.1 207.9h5v5h-5zM409.3 208h5v5h-5zM409.5 208.1h5v5h-5zM409.7 208.2h5v5h-5zM409.8 208.3h5v5h-5zM410 208.4h5v5h-5zM410.2 208.5h5v5h-5zM410.4 208.7h5v5h-5zM410.6 208.8h5v5h-5zM410.8 208.9h5v5h-5zM411 209h5v5h-5zM411.1 209.2h5v5h-5zM411.3 209.3h5v5h-5zM411.5 209.5h5v5h-5zM411.7 209.7h5v5h-5zM411.9 209.8h5v5h-5zM412.1 210h5v5h-5zM412.2 210.2h5v5h-5zM412.4 210.3h5v5h-5zM412.6 210.5h5v5h-5zM412.8 210.7h5v5h-5zM413 210.8h5v5h-5zM413.1 211h5v5h-5zM413.3 211.1h5v5h-5zM413.5 211.3h5v5h-5zM413.7 211.4h5v5h-5zM413.8 211.5h5v5h-5zM414 211.6h5v5h-5zM414.2 211.7h5v5h-5zM414.4 211.8h5v5h-5zM414.6 211.9h5v5h-5zM414.7 212h5v5h-5zM414.9 212.1h5v5h-5zM415.1 212.2h5v5h-5zM415.2 212.2h5v5h-5zM415.4 212.3h5v5h-5zM415.6 212.3h5v5h-5zM415.8 212.4h5v5h-5zM415.9 212.5h5v5h-5zM416.1 212.5h5v5h-5zM416.3 212.6h5v5h-5zM416.4 212.7h5v5h-5zM416.6 212.7h5v5h-5zM416.8 212.8h5v5h-5zM416.9 212.9h5v5h-5zM417.1 213h5v5h-5zM417.3 213.1h5v5h-5zM417.4 213.2h5v5h-5zM417.6 213.4h5v5h-5zM417.8 213.5h5v5h-5zM417.9 213.7h5v5h-5zM418.1 213.8h5v5h-5zM418.3 214h5v5h-5zM418.4 214.2h5v5h-5zM418.6 214.4h5v5h-5zM418.8 214.6h5v5h-5zM418.9 214.8h5v5h-5zM419.1 215h5v5h-5zM419.2 215.3h5v5h-5zM419.4 215.5h5v5h-5zM419.6 215.7h5v5h-5zM419.7 215.7h5v5h-5zM419.9 215.7h5v5h-5zM420 216.8h5v5h-5zM420.2 216.8h5v5h-5zM420.4 216.8h5v5h-5zM420.5 216.8h5v5h-5zM420.7 216.8h5v5h-5zM420.8 218h5v5h-5zM421 218h5v5h-5zM421.1 218h5v5h-5zM421.3 218h5v5h-5zM421.5 218h5v5h-5zM421.6 218h5v5h-5zM421.8 218h5v5h-5zM421.9 219.3h5v5h-5zM422.1 219.3h5v5h-5zM422.2 219.3h5v5h-5zM422.4 219.3h5v5h-5zM422.5 219.3h5v5h-5zM422.7 219.3h5v5h-5zM422.8 219.3h5v5h-5zM423 219.3h5v5h-5zM423.1 220.6h5v5h-5zM423.3 220.6h5v5h-5zM423.4 220.6h5v5h-5zM423.6 220.6h5v5h-5zM423.7 220.6h5v5h-5zM423.9 220.6h5v5h-5zM424 220.6h5v5h-5zM424.2 220.6h5v5h-5zM424.3 220.6h5v5h-5zM424.5 222h5v5h-5zM424.6 222h5v5h-5zM424.8 222h5v5h-5zM424.9 222h5v5h-5zM425.1 222h5v5h-5zM425.2 222h5v5h-5zM425.4 222h5v5h-5zM425.5 222h5v5h-5zM425.7 223.4h5v5h-5zM425.8 223.4h5v5h-5zM425.9 223.4h5v5h-5zM426.1 223.4h5v5h-5zM426.2 223.4h5v5h-5zM426.4 223.4h5v5h-5zM426.5 223.4h5v5h-5zM426.7 223.4h5v5h-5zM426.8 223.4h5v5h-5zM426.9 225h5v5h-5zM427.1 225h5v5h-5zM427.2 225h5v5h-5zM427.4 225h5v5h-5zM427.5 225h5v5h-5zM427.6 225h5v5h-5zM427.8 225h5v5h-5zM427.9 225h5v5h-5zM428.1 225h5v5h-5zM428.2 225h5v5h-5zM428.3 225h5v5h-5zM428.5 226.6h5v5h-5zM428.6 226.6h5v5h-5zM428.8 226.6h5v5h-5zM428.9 226.6h5v5h-5zM429 226.6h5v5h-5zM429.2 226.6h5v5h-5zM429.3 226.6h5v5h-5zM429.4 226.6h5v5h-5zM429.6 226.6h5v5h-5zM429.7 226.6h5v5h-5zM429.9 226.6h5v5h-5zM430 226.6h5v5h-5zM430.1 226.6h5v5h-5zM430.3 226.6h5v5h-5zM430.4 226.6h5v5h-5zM430.5 226.6h5v5h-5zM430.7 228.3h5v5h-5zM430.8 228.3h5v5h-5zM430.9 228.3h5v5h-5zM431.1 228.3h5v5h-5zM431.2 228.3h5v5h-5zM431.3 228.3h5v5h-5zM431.5 228.3h5v5h-5zM431.6 228.3h5v5h-5zM431.7 228.3h5v5h-5zM431.8 228.3h5v5h-5zM432 228.3h5v5h-5zM432.1 228.3h5v5h-5zM432.2 228.3h5v5h-5zM432.4 230.1h5v5h-5zM432.5 230.1h5v5h-5zM432.6 230.1h5v5h-5zM432.8 230.1h5v5h-5zM432.9 230.1h5v5h-5zM433 230.1h5v5h-5zM433.1 230.1h5v5h-5zM433.3 230.1h5v5h-5zM433.4 230.1h5v5h-5zM433.5 230.1h5v5h-5zM433.7 230.1h5v5h-5zM433.8 232.1h5v5h-5zM433.9 232.1h5v5h-5zM434 232.1h5v5h-5zM434.2 232.1h5v5h-5zM434.3 232.1h5v5h-5zM434.4 232.1h5v5h-5zM434.5 232.1h5v5h-5zM434.7 232.1h5v5h-5zM434.8 232.1h5v5h-5zM434.9 232.1h5v5h-5zM435 232.1h5v5h-5zM435.2 232.1h5v5h-5zM435.3 232.1h5v5h-5zM435.4 232.1h5v5h-5zM435.5 232.1h5v5h-5zM435.7 232.1h5v5h-5zM435.8 234.2h5v5h-5zM435.9 234.2h5v5h-5zM436 234.2h5v5h-5zM436.1 234.2h5v5h-5zM436.3 234.2h5v5h-5zM436.4 234.2h5v5h-5zM436.5 234.2h5v5h-5zM436.6 234.2h5v5h-5zM436.7 234.2h5v5h-5zM436.9 234.2h5v5h-5zM437 234.2h5v5h-5zM437.1 234.2h5v5h-5zM437.2 234.2h5v5h-5zM437.3 234.2h5v5h-5zM437.5 234.2h5v5h-5zM437.6 234.2h5v5h-5zM437.7 234.2h5v5h-5zM437.8 234.2h5v5h-5zM437.9 234.2h5v5h-5zM438.1 234.2h5v5h-5zM438.2 234.2h5v5h-5zM438.3 234.2h5v5h-5zM438.4 234.2h5v5h-5zM438.5 234.2h5v5h-5zM438.6 234.2h5v5h-5zM438.8 234.2h5v5h-5zM438.9 234.2h5v5h-5zM439 234.2h5v5h-5zM439.1 234.2h5v5h-5zM439.2 234.2h5v5h-5zM439.3 236.4h5v5h-5zM439.5 236.4h5v5h-5zM439.6 236.4h5v5h-5zM439.7 236.4h5v5h-5zM439.8 236.4h5v5h-5zM439.9 236.4h5v5h-5zM440 236.4h5v5h-5zM440.2 236.4h5v5h-5zM440.3 236.4h5v5h-5zM440.4 236.4h5v5h-5zM440.5 236.4h5v5h-5zM440.6 236.4h5v5h-5zM440.7 236.4h5v5h-5zM440.8 236.4h5v5h-5zM440.9 236.4h5v5h-5zM441.1 236.4h5v5h-5zM441.2 236.4h5v5h-5zM441.3 236.4h5v5h-5zM441.4 236.4h5v5h-5zM441.5 236.4h5v5h-5zM441.6 236.4h5v5h-5zM441.7 236.4h5v5h-5zM441.8 236.4h5v5h-5zM441.9 236.4h5v5h-5zM442.1 236.4h5v5h-5zM442.2 236.4h5v5h-5zM442.3 236.4h5v5h-5zM442.4 236.4h5v5h-5zM442.5 236.4h5v5h-5zM442.6 236.4h5v5h-5zM442.7 236.4h5v5h-5zM442.8 236.4h5v5h-5zM442.9 236.4h5v5h-5zM443 236.4h5v5h-5zM443.2 238.9h5v5h-5zM443.3 238.9h5v5h-5zM443.4 238.9h5v5h-5zM443.5 238.9h5v5h-5zM443.6 238.9h5v5h-5zM443.7 238.9h5v5h-5zM443.8 238.9h5v5h-5zM443.9 238.9h5v5h-5zM444 238.9h5v5h-5zM444.1 238.9h5v5h-5zM444.2 238.9h5v5h-5zM444.3 238.9h5v5h-5zM444.4 238.9h5v5h-5zM444.6 238.9h5v5h-5zM444.7 238.9h5v5h-5zM444.8 238.9h5v5h-5zM444.9 238.9h5v5h-5zM445 238.9h5v5h-5zM445.1 238.9h5v5h-5zM445.2 238.9h5v5h-5zM445.3 238.9h5v5h-5zM445.4 238.9h5v5h-5zM445.5 238.9h5v5h-5zM445.6 238.9h5v5h-5zM445.7 238.9h5v5h-5zM445.8 238.9h5v5h-5zM445.9 238.9h5v5h-5zM446 238.9h5v5h-5zM446.1 238.9h5v5h-5zM446.2 238.9h5v5h-5zM446.3 238.9h5v5h-5zM446.4 238.9h5v5h-5zM446.5 241.6h5v5h-5zM446.6 241.6h5v5h-5zM446.7 241.6h5v5h-5zM446.8 241.6h5v5h-5zM446.9 241.6h5v5h-5zM447 241.6h5v5h-5zM447.1 241.6h5v5h-5zM447.2 241.6h5v5h-5zM447.3 241.6h5v5h-5zM447.5 241.6h5v5h-5zM447.6 241.6h5v5h-5zM447.7 241.6h5v5h-5zM447.8 241.6h5v5h-5zM447.9 244.6h5v5h-5zM448 244.6h5v5h-5zM448.1 244.6h5v5h-5zM448.2 244.6h5v5h-5zM448.3 244.6h5v5h-5zM448.4 244.6h5v5h-5zM448.5 244.6h5v5h-5zM448.6 244.6h5v5h-5zM448.7 244.6h5v5h-5zM448.8 244.6h5v5h-5zM448.9 244.6h5v5h-5zM448.9 244.6h5v5h-5zM449 244.6h5v5h-5zM449.1 244.6h5v5h-5zM449.2 244.6h5v5h-5zM449.3 244.6h5v5h-5zM449.4 244.6h5v5h-5zM449.5 247.9h5v5h-5zM449.6 247.9h5v5h-5zM449.7 247.9h5v5h-5zM449.8 247.9h5v5h-5zM449.9 247.9h5v5h-5zM450 247.9h5v5h-5zM450.1 247.9h5v5h-5zM450.2 247.9h5v5h-5zM450.3 247.9h5v5h-5zM450.4 247.9h5v5h-5zM450.5 247.9h5v5h-5zM450.6 247.9h5v5h-5zM450.7 247.9h5v5h-5zM450.8 247.9h5v5h-5zM450.9 247.9h5v5h-5zM451 247.9h5v5h-5zM451.1 247.9h5v5h-5zM451.2 247.9h5v5h-5zM451.3 251.7h5v5h-5zM451.4 251.7h5v5h-5zM451.5 251.7h5v5h-5zM451.6 251.7h5v5h-5zM451.7 251.7h5v5h-5zM451.7 251.7h5v5h-5zM451.8 251.7h5v5h-5zM451.9 251.7h5v5h-5zM452 251.7h5v5h-5zM452.1 251.7h5v5h-5zM452.2 251.7h5v5h-5zM452.3 251.7h5v5h-5zM452.4 251.7h5v5h-5zM452.5 256.1h5v5h-5zM452.6 256.1h5v5h-5zM452.7 256.1h5v5h-5zM452.8 256.1h5v5h-5zM452.9 256.1h5v5h-5zM453 256.1h5v5h-5zM453.1 256.1h5v5h-5zM453.1 256.1h5v5h-5zM453.2 256.1h5v5h-5zM453.3 256.1h5v5h-5zM453.4 256.1h5v5h-5zM453.5 256.1h5v5h-5zM453.6 256.1h5v5h-5zM453.7 256.1h5v5h-5zM453.8 256.1h5v5h-5zM453.9 261.2h5v5h-5zM454 261.2h5v5h-5zM454.1 261.2h5v5h-5zM454.1 261.2h5v5h-5zM454.2 261.2h5v5h-5zM454.3 261.2h5v5h-5zM454.4 261.2h5v5h-5zM454.5 261.2h5v5h-5zM454.6 261.2h5v5h-5zM454.7 261.2h5v5h-5zM454.8 261.2h5v5h-5zM454.9 261.2h5v5h-5zM455 261.2h5v5h-5zM455 261.2h5v5h-5zM455.1 261.2h5v5h-5zM455.2 261.2h5v5h-5zM455.3 261.2h5v5h-5zM455.4 261.2h5v5h-5zM455.5 261.2h5v5h-5zM455.6 261.2h5v5h-5zM455.7 261.2h5v5h-5zM455.8 261.2h5v5h-5zM455.8 261.2h5v5h-5zM455.9 261.2h5v5h-5zM456 261.2h5v5h-5zM456.1 261.2h5v5h-5zM456.2 261.2h5v5h-5zM456.3 261.2h5v5h-5zM456.4 261.2h5v5h-5zM456.5 261.2h5v5h-5zM456.5 261.2h5v5h-5zM456.6 261.2h5v5h-5zM456.7 261.2h5v5h-5zM456.8 261.2h5v5h-5zM456.9 261.2h5v5h-5zM457 261.2h5v5h-5zM457.1 261.2h5v5h-5zM457.2 261.2h5v5h-5zM457.2 261.2h5v5h-5zM457.3 261.2h5v5h-5zM457.4 267.5h5v5h-5zM457.5 267.5h5v5h-5zM457.6 267.5h5v5h-5zM457.7 267.5h5v5h-5zM457.8 267.5h5v5h-5zM457.8 267.5h5v5h-5zM457.9 267.5h5v5h-5zM458 267.5h5v5h-5zM458.1 267.5h5v5h-5zM458.2 267.5h5v5h-5zM458.3 267.5h5v5h-5zM458.3 267.5h5v5h-5zM458.4 267.5h5v5h-5zM458.5 267.5h5v5h-5zM458.6 267.5h5v5h-5zM458.7 267.5h5v5h-5zM458.8 267.5h5v5h-5zM458.8 267.5h5v5h-5zM458.9 267.5h5v5h-5zM459 267.5h5v5h-5zM459.1 267.5h5v5h-5zM459.2 267.5h5v5h-5zM459.3 267.5h5v5h-5zM459.4 267.5h5v5h-5zM459.4 267.5h5v5h-5zM459.5 267.5h5v5h-5zM459.6 267.5h5v5h-5zM459.7 267.5h5v5h-5zM459.8 267.5h5v5h-5zM459.8 267.5h5v5h-5zM459.9 267.5h5v5h-5zM460 267.5h5v5h-5zM460.1 267.5h5v5h-5zM460.2 267.5h5v5h-5zM460.3 267.5h5v5h-5zM460.3 267.5h5v5h-5zM460.4 267.5h5v5h-5zM460.5 267.5h5v5h-5zM460.6 267.5h5v5h-5zM460.7 275.7h5v5h-5zM460.7 275.7h5v5h-5zM460.8 275.7h5v5h-5zM460.9 275.7h5v5h-5zM461 275.7h5v5h-5zM461.1 275.7h5v5h-5zM461.2 275.7h5v5h-5zM461.2 275.7h5v5h-5zM461.3 275.7h5v5h-5zM461.4 275.7h5v5h-5zM461.5 275.7h5v5h-5zM461.6 275.7h5v5h-5zM461.6 275.7h5v5h-5zM461.7 275.7h5v5h-5zM461.8 275.7h5v5h-5zM461.9 275.7h5v5h-5zM462 275.7h5v5h-5zM462 275.7h5v5h-5zM462.1 275.7h5v5h-5zM462.2 275.7h5v5h-5zM462.3 275.7h5v5h-5zM462.3 275.7h5v5h-5zM462.4 275.7h5v5h-5zM462.5 275.7h5v5h-5zM462.6 275.7h5v5h-5zM462.7 275.7h5v5h-5zM462.7 275.7h5v5h-5zM462.8 275.7h5v5h-5zM462.9 275.7h5v5h-5zM463 275.7h5v5h-5zM463.1 275.7h5v5h-5zM463.1 275.7h5v5h-5zM463.2 275.7h5v5h-5zM463.3 275.7h5v5h-5zM463.4 275.7h5v5h-5zM463.4 275.7h5v5h-5zM463.5 275.7h5v5h-5zM463.6 275.7h5v5h-5zM463.7 275.7h5v5h-5zM463.8 275.7h5v5h-5zM463.8 275.7h5v5h-5zM463.9 275.7h5v5h-5zM464 275.7h5v5h-5zM464.1 275.7h5v5h-5zM464.1 275.7h5v5h-5zM464.2 275.7h5v5h-5zM464.3 275.7h5v5h-5zM464.4 287.2h5v5h-5zM464.4 287.2h5v5h-5zM464.5 287.2h5v5h-5zM464.6 287.2h5v5h-5zM464.7 287.2h5v5h-5zM464.8 287.2h5v5h-5zM464.8 287.2h5v5h-5zM464.9 287.2h5v5h-5zM465 287.2h5v5h-5zM465.1 287.2h5v5h-5zM465.1 287.2h5v5h-5zM465.2 287.2h5v5h-5zM465.3 287.2h5v5h-5zM465.4 287.2h5v5h-5zM465.4 287.2h5v5h-5zM465.5 287.2h5v5h-5zM465.6 287.2h5v5h-5zM465.7 287.2h5v5h-5zM465.7 287.2h5v5h-5zM465.8 287.2h5v5h-5zM465.9 287.2h5v5h-5zM466 287.2h5v5h-5zM466 287.2h5v5h-5zM466.1 287.2h5v5h-5zM466.2 287.2h5v5h-5zM466.3 287.2h5v5h-5zM466.3 287.2h5v5h-5zM466.4 287.2h5v5h-5zM466.5 287.2h5v5h-5zM466.6 287.2h5v5h-5zM466.6 287.2h5v5h-5zM466.7 287.2h5v5h-5zM466.8 287.2h5v5h-5zM466.8 287.2h5v5h-5zM466.9 287.2h5v5h-5zM467 287.2h5v5h-5zM467.1 287.2h5v5h-5zM467.1 287.2h5v5h-5zM467.2 287.2h5v5h-5zM467.3 287.2h5v5h-5zM467.4 287.2h5v5h-5zM467.4 287.2h5v5h-5zM467.5 287.2h5v5h-5zM467.6 287.2h5v5h-5zM467.6 287.2h5v5h-5zM467.7 287.2h5v5h-5zM467.8 287.2h5v5h-5zM467.9 287.2h5v5h-5zM467.9 287.2h5v5h-5zM468 287.2h5v5h-5zM468.1 287.2h5v5h-5zM468.2 306.8h5v5h-5zM468.2 306.8h5v5h-5zM468.3 306.8h5v5h-5zM468.4 306.8h5v5h-5zM468.4 306.8h5v5h-5zM468.5 306.8h5v5h-5zM468.6 306.8h5v5h-5zM468.7 306.8h5v5h-5zM468.7 306.8h5v5h-5zM468.8 306.8h5v5h-5zM468.9 306.8h5v5h-5zM468.9 306.8h5v5h-5zM469 306.8h5v5h-5zM469.1 306.8h5v5h-5zM469.2 306.8h5v5h-5zM469.2 306.8h5v5h-5zM469.3 306.8h5v5h-5zM469.4 306.8h5v5h-5zM469.4 306.8h5v5h-5zM469.5 306.8h5v5h-5zM469.6 306.8h5v5h-5zM469.6 306.8h5v5h-5zM469.7 306.8h5v5h-5zM469.8 306.8h5v5h-5zM469.9 306.8h5v5h-5zM469.9 306.8h5v5h-5zM470 306.8h5v5h-5zM470.1 306.8h5v5h-5zM470.1 306.8h5v5h-5zM470.2 306.8h5v5h-5zM470.3 306.8h5v5h-5zM470.3 306.8h5v5h-5zM470.4 306.8h5v5h-5zM470.5 306.8h5v5h-5zM470.5 306.8h5v5h-5zM470.6 306.8h5v5h-5zM470.7 306.8h5v5h-5zM470.8 306.8h5v5h-5zM470.8 306.8h5v5h-5zM470.9 306.8h5v5h-5zM471 306.8h5v5h-5zM471 306.8h5v5h-5zM471.1 306.8h5v5h-5zM471.2 306.8h5v5h-5zM471.2 306.8h5v5h-5zM471.3 306.8h5v5h-5zM471.4 306.8h5v5h-5zM471.4 306.8h5v5h-5zM471.5 306.8h5v5h-5zM471.6 306.8h5v5h-5zM471.6 306.8h5v5h-5zM471.7 306.8h5v5h-5zM471.8 306.8h5v5h-5zM471.8 306.8h5v5h-5zM471.9 306.8h5v5h-5zM472 306.8h5v5h-5zM472 306.8h5v5h-5zM472.1 306.8h5v5h-5zM472.2 306.8h5v5h-5zM472.3 306.8h5v5h-5zM472.3 306.8h5v5h-5zM472.4 306.8h5v5h-5zM472.5 306.8h5v5h-5zM472.5 306.8h5v5h-5zM472.6 306.8h5v5h-5zM472.7 306.8h5v5h-5zM472.7 306.8h5v5h-5zM472.8 306.8h5v5h-5zM472.9 306.8h5v5h-5zM472.9 306.8h5v5h-5zM473 306.8h5v5h-5zM473.1 306.8h5v5h-5zM473.1 306.8h5v5h-5zM473.2 306.8h5v5h-5zM473.3 306.8h5v5h-5zM473.3 306.8h5v5h-5z" fill="none" stroke="#000000" stroke-width="0.9"/>
<path d="M62.5 91.3L65.9 92.3L69.3 93.4L72.7 94.5L76.1 95.6L79.4 96.7L82.8 97.8L86.2 98.9L89.6 99.9L93 101L96.4 102.1L99.8 103.2L103.2 104.3L106.5 105.4L109.9 106.5L113.3 107.5L116.7 108.6L120.1 109.7L123.5 110.8L126.9 111.9L130.3 113L133.7 114.1L137 115.1L140.4 116.2L143.8 117.3L147.2 118.4L150.6 119.5L154 120.6L157.4 121.7L160.8 122.8L164.2 123.8L167.5 124.9L170.9 126L174.3 127.1L177.7 128.2L181.1 129.3L184.5 130.4L187.9 131.5L191.3 132.6L194.6 133.7L198 134.7L201.4 135.8L204.8 136.9L208.2 138L211.6 139.1L215 140.2L218.4 141.3L221.8 142.4L225.1 143.5L228.5 144.6L231.9 145.7L235.3 146.8L238.7 147.9L242.1 149L245.5 150.1L248.9 151.2L252.2 152.3L255.6 153.4L259 154.5L262.4 155.6L265.8 156.8L269.2 157.9L272.6 159L276 160.1L279.4 161.2L282.7 162.3L286.1 163.5L289.5 164.6L292.9 165.7L296.3 166.8L299.7 168L303.1 169.1L306.5 170.2L309.9 171.4L313.2 172.5L316.6 173.7L320 174.8L323.4 176L326.8 177.2L330.2 178.3L333.6 179.5L337 180.7L340.3 181.9L343.7 183.1L347.1 184.3L350.5 185.5L353.9 186.7L357.3 187.9L360.7 189.1L364.1 190.4L367.5 191.6L370.8 192.9L374.2 194.2L377.6 195.5L381 196.8L384.4 198.1L387.8 199.5L391.2 200.8L394.6 202.2L397.9 203.6L401.3 205.1L404.7 206.5L408.1 208L411.5 209.6L414.9 211.1L418.3 212.8L421.7 214.5L425.1 216.2L428.4 218L431.8 219.9L435.2 221.9L438.6 224.1L442 226.3L445.4 228.8L448.8 231.5L452.2 234.5L455.6 237.9L458.9 241.9L462.3 247L465.7 253.9L465.7 253.9L465.8 254L465.8 254.1L465.8 254.2L465.9 254.2L465.9 254.3L465.9 254.4L466 254.5L466 254.6L466 254.7L466.1 254.8L466.1 254.8L466.1 254.9L466.2 255L466.2 255.1L466.2 255.2L466.3 255.3L466.3 255.4L466.3 255.5L466.4 255.6L466.4 255.7L466.4 255.8L466.5 255.8L466.5 255.9L466.5 256L466.6 256.1L466.6 256.2L466.6 256.3L466.7 256.4L466.7 256.5L466.7 256.6L466.8 256.7L466.8 256.8L466.8 256.9L466.9 257L466.9 257.1L466.9 257.2L467 257.3L467 257.4L467 257.5L467.1 257.6L467.1 257.7L467.1 257.8L467.2 257.9L467.2 258L467.2 258.1L467.3 258.2L467.3 258.3L467.3 258.4L467.4 258.6L467.4 258.7L467.4 258.8L467.5 258.9L467.5 259L467.5 259.1L467.5 259.2L467.6 259.3L467.6 259.4L467.6 259.6L467.7 259.7L467.7 259.8L467.7 259.9L467.8 260L467.8 260.1L467.8 260.3L467.9 260.4L467.9 260.5L467.9 260.6L468 260.7L468 260.9L468 261L468.1 261.1L468.1 261.2L468.1 261.4L468.2 261.5L468.2 261.6L468.2 261.7L468.3 261.9L468.3 262L468.3 262.1L468.4 262.3L468.4 262.4L468.4 262.5L468.5 262.7L468.5 262.8L468.5 262.9L468.6 263.1L468.6 263.2L468.6 263.4L468.7 263.5L468.7 263.7L468.7 263.8L468.8 263.9L468.8 264.1L468.8 264.2L468.8 264.4L468.9 264.5L468.9 264.7L468.9 264.9L469 265L469 265.2L469 265.3L469.1 265.5L469.1 265.7L469.1 265.8L469.2 266L469.2 266.1L469.2 266.3L469.3 266.5L469.3 266.7L469.3 266.8L469.4 267L469.4 267.2L469.4 267.4L469.5 267.5L469.5 267.7L469.5 267.9L469.6 268.1L469.6 268.3L469.6 268.5L469.6 268.7L469.7 268.9L469.7 269.1L469.7 269.3L469.8 269.5L469.8 269.7L469.8 269.9L469.9 270.1L469.9 270.3L469.9 270.5L470 270.8L470 271L470 271.2L470.1 271.4L470.1 271.7L470.1 271.9L470.2 272.2L470.2 272.4L470.2 272.6L470.2 272.9L470.3 273.2L470.3 273.4L470.3 273.7L470.4 273.9L470.4 274.2L470.4 274.5L470.5 274.8L470.5 275.1L470.5 275.4L470.6 275.7L470.6 276L470.6 276.3L470.7 276.6L470.7 276.9L470.7 277.3L470.7 277.6L470.8 277.9L470.8 278.3L470.8 278.7L470.9 279L470.9 279.4L470.9 279.8L471 280.2L471 280.6L471 281L471.1 281.5L471.1 281.9L471.1 282.4L471.1 282.9L471.2 283.3L471.2 283.8L471.2 284.4L471.3 284.9L471.3 285.5L471.3 286.1L471.4 286.7L471.4 287.3L471.4 288L471.5 288.7L471.5 289.4L471.5 290.1L471.5 290.9L471.6 291.8L471.6 292.7L471.6 293.6L471.7 294.7L471.7 295.7L471.7 296.9L471.8 298.2L471.8 299.6L471.8 301.2L471.9 302.9L471.9 304.9L471.9 307.1L471.9 309.3" fill="none" stroke="#000000" stroke-width="1.55" stroke-linejoin="round"/>
<path d="M62.5 97.1l2.9 2.9l-2.9 2.9l-2.9 -2.9zM104.5 96.1l2.9 2.9l-2.9 2.9l-2.9 -2.9zM129.1 101.7l2.9 2.9l-2.9 2.9l-2.9 -2.9zM146.5 102.1l2.9 2.9l-2.9 2.9l-2.9 -2.9zM160 103l2.9 2.9l-2.9 2.9l-2.9 -2.9zM171.1 103.7l2.9 2.9l-2.9 2.9l-2.9 -2.9zM180.4 105.1l2.9 2.9l-2.9 2.9l-2.9 -2.9zM188.5 110.3l2.9 2.9l-2.9 2.9l-2.9 -2.9zM195.6 115l2.9 2.9l-2.9 2.9l-2.9 -2.9zM202 122.6l2.9 2.9l-2.9 2.9l-2.9 -2.9zM207.8 126l2.9 2.9l-2.9 2.9l-2.9 -2.9zM213 127.1l2.9 2.9l-2.9 2.9l-2.9 -2.9zM217.9 128.1l2.9 2.9l-2.9 2.9l-2.9 -2.9zM222.4 129.6l2.9 2.9l-2.9 2.9l-2.9 -2.9zM226.6 131.3l2.9 2.9l-2.9 2.9l-2.9 -2.9zM230.5 132.9l2.9 2.9l-2.9 2.9l-2.9 -2.9zM234.1 134.1l2.9 2.9l-2.9 2.9l-2.9 -2.9zM237.6 135l2.9 2.9l-2.9 2.9l-2.9 -2.9zM240.9 135.9l2.9 2.9l-2.9 2.9l-2.9 -2.9zM244 136.9l2.9 2.9l-2.9 2.9l-2.9 -2.9zM246.9 137.9l2.9 2.9l-2.9 2.9l-2.9 -2.9zM249.8 138.8l2.9 2.9l-2.9 2.9l-2.9 -2.9zM252.5 139.8l2.9 2.9l-2.9 2.9l-2.9 -2.9zM255 141.2l2.9 2.9l-2.9 2.9l-2.9 -2.9zM257.5 142.7l2.9 2.9l-2.9 2.9l-2.9 -2.9zM259.9 143.2l2.9 2.9l-2.9 2.9l-2.9 -2.9zM262.2 144l2.9 2.9l-2.9 2.9l-2.9 -2.9zM264.4 144.2l2.9 2.9l-2.9 2.9l-2.9 -2.9zM266.5 145.6l2.9 2.9l-2.9 2.9l-2.9 -2.9zM268.6 147.4l2.9 2.9l-2.9 2.9l-2.9 -2.9zM270.5 148.3l2.9 2.9l-2.9 2.9l-2.9 -2.9zM272.5 148.8l2.9 2.9l-2.9 2.9l-2.9 -2.9zM274.3 149.8l2.9 2.9l-2.9 2.9l-2.9 -2.9zM276.1 150.2l2.9 2.9l-2.9 2.9l-2.9 -2.9zM277.9 150.2l2.9 2.9l-2.9 2.9l-2.9 -2.9zM279.6 150.5l2.9 2.9l-2.9 2.9l-2.9 -2.9zM281.3 151.7l2.9 2.9l-2.9 2.9l-2.9 -2.9zM282.9 152.7l2.9 2.9l-2.9 2.9l-2.9 -2.9zM284.5 153l2.9 2.9l-2.9 2.9l-2.9 -2.9zM286 153.3l2.9 2.9l-2.9 2.9l-2.9 -2.9zM287.5 153.9l2.9 2.9l-2.9 2.9l-2.9 -2.9zM288.9 154.3l2.9 2.9l-2.9 2.9l-2.9 -2.9zM290.4 154.3l2.9 2.9l-2.9 2.9l-2.9 -2.9zM291.8 154.3l2.9 2.9l-2.9 2.9l-2.9 -2.9zM293.1 154.3l2.9 2.9l-2.9 2.9l-2.9 -2.9zM294.5 155.1l2.9 2.9l-2.9 2.9l-2.9 -2.9zM295.8 156.2l2.9 2.9l-2.9 2.9l-2.9 -2.9zM297 156.9l2.9 2.9l-2.9 2.9l-2.9 -2.9zM298.3 157.3l2.9 2.9l-2.9 2.9l-2.9 -2.9zM299.5 157.8l2.9 2.9l-2.9 2.9l-2.9 -2.9zM300.7 158.4l2.9 2.9l-2.9 2.9l-2.9 -2.9zM301.9 159.2l2.9 2.9l-2.9 2.9l-2.9 -2.9zM303 159.7l2.9 2.9l-2.9 2.9l-2.9 -2.9zM304.2 159.8l2.9 2.9l-2.9 2.9l-2.9 -2.9zM305.3 159.8l2.9 2.9l-2.9 2.9l-2.9 -2.9zM306.4 159.8l2.9 2.9l-2.9 2.9l-2.9 -2.9zM307.4 160.2l2.9 2.9l-2.9 2.9l-2.9 -2.9zM308.5 161l2.9 2.9l-2.9 2.9l-2.9 -2.9zM309.5 161.7l2.9 2.9l-2.9 2.9l-2.9 -2.9zM310.6 162.3l2.9 2.9l-2.9 2.9l-2.9 -2.9zM311.6 162.6l2.9 2.9l-2.9 2.9l-2.9 -2.9zM312.5 162.8l2.9 2.9l-2.9 2.9l-2.9 -2.9zM313.5 163.1l2.9 2.9l-2.9 2.9l-2.9 -2.9zM314.5 163.5l2.9 2.9l-2.9 2.9l-2.9 -2.9zM315.4 164l2.9 2.9l-2.9 2.9l-2.9 -2.9zM316.3 164.3l2.9 2.9l-2.9 2.9l-2.9 -2.9zM317.2 164.4l2.9 2.9l-2.9 2.9l-2.9 -2.9zM318.1 164.4l2.9 2.9l-2.9 2.9l-2.9 -2.9zM319 164.4l2.9 2.9l-2.9 2.9l-2.9 -2.9zM319.9 164.4l2.9 2.9l-2.9 2.9l-2.9 -2.9zM320.8 164.4l2.9 2.9l-2.9 2.9l-2.9 -2.9zM321.6 164.4l2.9 2.9l-2.9 2.9l-2.9 -2.9zM322.4 164.5l2.9 2.9l-2.9 2.9l-2.9 -2.9zM323.3 165l2.9 2.9l-2.9 2.9l-2.9 -2.9zM324.1 165.4l2.9 2.9l-2.9 2.9l-2.9 -2.9zM324.9 165.7l2.9 2.9l-2.9 2.9l-2.9 -2.9zM325.7 165.9l2.9 2.9l-2.9 2.9l-2.9 -2.9zM326.4 166.1l2.9 2.9l-2.9 2.9l-2.9 -2.9zM327.2 166.4l2.9 2.9l-2.9 2.9l-2.9 -2.9zM328 166.9l2.9 2.9l-2.9 2.9l-2.9 -2.9zM328.7 167.4l2.9 2.9l-2.9 2.9l-2.9 -2.9zM329.5 167.9l2.9 2.9l-2.9 2.9l-2.9 -2.9zM330.2 168.4l2.9 2.9l-2.9 2.9l-2.9 -2.9zM330.9 168.6l2.9 2.9l-2.9 2.9l-2.9 -2.9zM331.7 168.7l2.9 2.9l-2.9 2.9l-2.9 -2.9zM332.4 168.7l2.9 2.9l-2.9 2.9l-2.9 -2.9zM333.1 168.7l2.9 2.9l-2.9 2.9l-2.9 -2.9zM333.8 168.7l2.9 2.9l-2.9 2.9l-2.9 -2.9zM334.4 168.7l2.9 2.9l-2.9 2.9l-2.9 -2.9zM335.1 169l2.9 2.9l-2.9 2.9l-2.9 -2.9zM335.8 169.4l2.9 2.9l-2.9 2.9l-2.9 -2.9zM336.4 169.8l2.9 2.9l-2.9 2.9l-2.9 -2.9zM337.1 170.3l2.9 2.9l-2.9 2.9l-2.9 -2.9zM337.8 170.7l2.9 2.9l-2.9 2.9l-2.9 -2.9zM338.4 171l2.9 2.9l-2.9 2.9l-2.9 -2.9zM339 171.3l2.9 2.9l-2.9 2.9l-2.9 -2.9zM339.7 171.5l2.9 2.9l-2.9 2.9l-2.9 -2.9zM340.3 171.7l2.9 2.9l-2.9 2.9l-2.9 -2.9zM340.9 172l2.9 2.9l-2.9 2.9l-2.9 -2.9zM341.5 172.4l2.9 2.9l-2.9 2.9l-2.9 -2.9zM342.1 172.9l2.9 2.9l-2.9 2.9l-2.9 -2.9zM342.7 173.4l2.9 2.9l-2.9 2.9l-2.9 -2.9zM343.3 173.8l2.9 2.9l-2.9 2.9l-2.9 -2.9zM343.9 174.2l2.9 2.9l-2.9 2.9l-2.9 -2.9zM344.5 174.5l2.9 2.9l-2.9 2.9l-2.9 -2.9zM345 174.6l2.9 2.9l-2.9 2.9l-2.9 -2.9zM345.6 174.7l2.9 2.9l-2.9 2.9l-2.9 -2.9zM346.2 174.7l2.9 2.9l-2.9 2.9l-2.9 -2.9zM346.7 174.7l2.9 2.9l-2.9 2.9l-2.9 -2.9zM347.3 174.7l2.9 2.9l-2.9 2.9l-2.9 -2.9zM347.8 174.7l2.9 2.9l-2.9 2.9l-2.9 -2.9zM348.4 174.7l2.9 2.9l-2.9 2.9l-2.9 -2.9zM348.9 174.7l2.9 2.9l-2.9 2.9l-2.9 -2.9zM349.4 174.8l2.9 2.9l-2.9 2.9l-2.9 -2.9zM350 175.1l2.9 2.9l-2.9 2.9l-2.9 -2.9zM350.5 175.3l2.9 2.9l-2.9 2.9l-2.9 -2.9zM351 175.6l2.9 2.9l-2.9 2.9l-2.9 -2.9zM351.5 175.8l2.9 2.9l-2.9 2.9l-2.9 -2.9zM352 176l2.9 2.9l-2.9 2.9l-2.9 -2.9zM352.5 176.1l2.9 2.9l-2.9 2.9l-2.9 -2.9zM353 176.2l2.9 2.9l-2.9 2.9l-2.9 -2.9zM353.5 176.3l2.9 2.9l-2.9 2.9l-2.9 -2.9zM354 176.5l2.9 2.9l-2.9 2.9l-2.9 -2.9zM354.5 176.7l2.9 2.9l-2.9 2.9l-2.9 -2.9zM355 176.9l2.9 2.9l-2.9 2.9l-2.9 -2.9zM355.5 177.2l2.9 2.9l-2.9 2.9l-2.9 -2.9zM356 177.6l2.9 2.9l-2.9 2.9l-2.9 -2.9zM356.5 178l2.9 2.9l-2.9 2.9l-2.9 -2.9zM356.9 178.4l2.9 2.9l-2.9 2.9l-2.9 -2.9zM357.4 178.7l2.9 2.9l-2.9 2.9l-2.9 -2.9zM357.9 179l2.9 2.9l-2.9 2.9l-2.9 -2.9zM358.3 179.3l2.9 2.9l-2.9 2.9l-2.9 -2.9zM358.8 179.4l2.9 2.9l-2.9 2.9l-2.9 -2.9zM359.2 179.5l2.9 2.9l-2.9 2.9l-2.9 -2.9zM359.7 179.5l2.9 2.9l-2.9 2.9l-2.9 -2.9zM360.1 179.5l2.9 2.9l-2.9 2.9l-2.9 -2.9zM360.6 179.5l2.9 2.9l-2.9 2.9l-2.9 -2.9zM361 179.5l2.9 2.9l-2.9 2.9l-2.9 -2.9zM361.5 179.5l2.9 2.9l-2.9 2.9l-2.9 -2.9zM361.9 179.5l2.9 2.9l-2.9 2.9l-2.9 -2.9zM362.3 179.7l2.9 2.9l-2.9 2.9l-2.9 -2.9zM362.7 179.8l2.9 2.9l-2.9 2.9l-2.9 -2.9zM363.2 180.1l2.9 2.9l-2.9 2.9l-2.9 -2.9zM363.6 180.3l2.9 2.9l-2.9 2.9l-2.9 -2.9zM364 180.6l2.9 2.9l-2.9 2.9l-2.9 -2.9zM364.4 180.9l2.9 2.9l-2.9 2.9l-2.9 -2.9zM364.8 181.2l2.9 2.9l-2.9 2.9l-2.9 -2.9zM365.3 181.4l2.9 2.9l-2.9 2.9l-2.9 -2.9zM365.7 181.6l2.9 2.9l-2.9 2.9l-2.9 -2.9zM366.1 181.8l2.9 2.9l-2.9 2.9l-2.9 -2.9zM366.5 182l2.9 2.9l-2.9 2.9l-2.9 -2.9zM366.9 182.1l2.9 2.9l-2.9 2.9l-2.9 -2.9zM367.3 182.3l2.9 2.9l-2.9 2.9l-2.9 -2.9zM367.7 182.5l2.9 2.9l-2.9 2.9l-2.9 -2.9zM368.1 182.7l2.9 2.9l-2.9 2.9l-2.9 -2.9zM368.4 182.9l2.9 2.9l-2.9 2.9l-2.9 -2.9zM368.8 183.2l2.9 2.9l-2.9 2.9l-2.9 -2.9zM369.2 183.5l2.9 2.9l-2.9 2.9l-2.9 -2.9zM369.6 183.9l2.9 2.9l-2.9 2.9l-2.9 -2.9zM370 184.3l2.9 2.9l-2.9 2.9l-2.9 -2.9zM370.4 184.7l2.9 2.9l-2.9 2.9l-2.9 -2.9zM370.7 185.1l2.9 2.9l-2.9 2.9l-2.9 -2.9zM371.1 185.5l2.9 2.9l-2.9 2.9l-2.9 -2.9zM371.5 185.8l2.9 2.9l-2.9 2.9l-2.9 -2.9zM371.8 186.2l2.9 2.9l-2.9 2.9l-2.9 -2.9zM372.2 186.4l2.9 2.9l-2.9 2.9l-2.9 -2.9zM372.6 186.6l2.9 2.9l-2.9 2.9l-2.9 -2.9zM372.9 186.8l2.9 2.9l-2.9 2.9l-2.9 -2.9zM373.3 186.9l2.9 2.9l-2.9 2.9l-2.9 -2.9zM373.6 186.9l2.9 2.9l-2.9 2.9l-2.9 -2.9zM374 187l2.9 2.9l-2.9 2.9l-2.9 -2.9zM374.4 187l2.9 2.9l-2.9 2.9l-2.9 -2.9zM374.7 187l2.9 2.9l-2.9 2.9l-2.9 -2.9zM375.1 187.1l2.9 2.9l-2.9 2.9l-2.9 -2.9zM375.4 187.1l2.9 2.9l-2.9 2.9l-2.9 -2.9zM375.7 187.2l2.9 2.9l-2.9 2.9l-2.9 -2.9zM376.1 187.3l2.9 2.9l-2.9 2.9l-2.9 -2.9zM376.4 187.4l2.9 2.9l-2.9 2.9l-2.9 -2.9zM376.8 187.6l2.9 2.9l-2.9 2.9l-2.9 -2.9zM377.1 187.8l2.9 2.9l-2.9 2.9l-2.9 -2.9zM377.4 188l2.9 2.9l-2.9 2.9l-2.9 -2.9zM377.8 188.2l2.9 2.9l-2.9 2.9l-2.9 -2.9zM378.1 188.4l2.9 2.9l-2.9 2.9l-2.9 -2.9zM378.4 188.5l2.9 2.9l-2.9 2.9l-2.9 -2.9zM378.8 188.7l2.9 2.9l-2.9 2.9l-2.9 -2.9zM379.1 188.8l2.9 2.9l-2.9 2.9l-2.9 -2.9zM379.4 188.9l2.9 2.9l-2.9 2.9l-2.9 -2.9zM379.7 189l2.9 2.9l-2.9 2.9l-2.9 -2.9zM380.1 189.1l2.9 2.9l-2.9 2.9l-2.9 -2.9zM380.4 189.2l2.9 2.9l-2.9 2.9l-2.9 -2.9zM380.7 189.2l2.9 2.9l-2.9 2.9l-2.9 -2.9zM381 189.3l2.9 2.9l-2.9 2.9l-2.9 -2.9zM381.3 189.4l2.9 2.9l-2.9 2.9l-2.9 -2.9zM381.6 189.4l2.9 2.9l-2.9 2.9l-2.9 -2.9zM382 189.5l2.9 2.9l-2.9 2.9l-2.9 -2.9zM382.3 189.7l2.9 2.9l-2.9 2.9l-2.9 -2.9zM382.6 189.8l2.9 2.9l-2.9 2.9l-2.9 -2.9zM382.9 190l2.9 2.9l-2.9 2.9l-2.9 -2.9zM383.2 190.2l2.9 2.9l-2.9 2.9l-2.9 -2.9zM383.5 190.5l2.9 2.9l-2.9 2.9l-2.9 -2.9zM383.8 190.7l2.9 2.9l-2.9 2.9l-2.9 -2.9zM384.1 191l2.9 2.9l-2.9 2.9l-2.9 -2.9zM384.4 191.3l2.9 2.9l-2.9 2.9l-2.9 -2.9zM384.7 191.5l2.9 2.9l-2.9 2.9l-2.9 -2.9zM385 191.8l2.9 2.9l-2.9 2.9l-2.9 -2.9zM385.3 192l2.9 2.9l-2.9 2.9l-2.9 -2.9zM385.6 192.2l2.9 2.9l-2.9 2.9l-2.9 -2.9zM385.9 192.4l2.9 2.9l-2.9 2.9l-2.9 -2.9zM386.2 192.5l2.9 2.9l-2.9 2.9l-2.9 -2.9zM386.4 192.6l2.9 2.9l-2.9 2.9l-2.9 -2.9zM386.7 192.7l2.9 2.9l-2.9 2.9l-2.9 -2.9zM387 192.8l2.9 2.9l-2.9 2.9l-2.9 -2.9zM387.3 192.8l2.9 2.9l-2.9 2.9l-2.9 -2.9zM387.6 192.8l2.9 2.9l-2.9 2.9l-2.9 -2.9zM387.9 192.8l2.9 2.9l-2.9 2.9l-2.9 -2.9zM388.2 192.8l2.9 2.9l-2.9 2.9l-2.9 -2.9zM388.4 192.8l2.9 2.9l-2.9 2.9l-2.9 -2.9zM388.7 192.8l2.9 2.9l-2.9 2.9l-2.9 -2.9zM389 192.8l2.9 2.9l-2.9 2.9l-2.9 -2.9zM389.3 192.8l2.9 2.9l-2.9 2.9l-2.9 -2.9zM389.5 192.8l2.9 2.9l-2.9 2.9l-2.9 -2.9zM389.8 192.8l2.9 2.9l-2.9 2.9l-2.9 -2.9zM390.1 192.9l2.9 2.9l-2.9 2.9l-2.9 -2.9zM390.4 193l2.9 2.9l-2.9 2.9l-2.9 -2.9zM390.6 193.1l2.9 2.9l-2.9 2.9l-2.9 -2.9zM390.9 193.2l2.9 2.9l-2.9 2.9l-2.9 -2.9zM391.2 193.3l2.9 2.9l-2.9 2.9l-2.9 -2.9zM391.4 193.5l2.9 2.9l-2.9 2.9l-2.9 -2.9zM391.7 193.6l2.9 2.9l-2.9 2.9l-2.9 -2.9zM392 193.7l2.9 2.9l-2.9 2.9l-2.9 -2.9zM392.2 193.8l2.9 2.9l-2.9 2.9l-2.9 -2.9zM392.5 193.9l2.9 2.9l-2.9 2.9l-2.9 -2.9zM392.7 194l2.9 2.9l-2.9 2.9l-2.9 -2.9zM393 194.1l2.9 2.9l-2.9 2.9l-2.9 -2.9zM393.3 194.2l2.9 2.9l-2.9 2.9l-2.9 -2.9zM393.5 194.3l2.9 2.9l-2.9 2.9l-2.9 -2.9zM393.8 194.3l2.9 2.9l-2.9 2.9l-2.9 -2.9zM394 194.4l2.9 2.9l-2.9 2.9l-2.9 -2.9zM394.3 194.4l2.9 2.9l-2.9 2.9l-2.9 -2.9zM394.5 194.4l2.9 2.9l-2.9 2.9l-2.9 -2.9zM394.8 194.5l2.9 2.9l-2.9 2.9l-2.9 -2.9zM395 194.5l2.9 2.9l-2.9 2.9l-2.9 -2.9zM395.3 194.6l2.9 2.9l-2.9 2.9l-2.9 -2.9zM395.5 194.7l2.9 2.9l-2.9 2.9l-2.9 -2.9zM395.8 194.8l2.9 2.9l-2.9 2.9l-2.9 -2.9zM396 194.9l2.9 2.9l-2.9 2.9l-2.9 -2.9zM396.3 195.1l2.9 2.9l-2.9 2.9l-2.9 -2.9zM396.5 195.2l2.9 2.9l-2.9 2.9l-2.9 -2.9zM396.8 195.4l2.9 2.9l-2.9 2.9l-2.9 -2.9zM397 195.6l2.9 2.9l-2.9 2.9l-2.9 -2.9zM397.3 195.8l2.9 2.9l-2.9 2.9l-2.9 -2.9zM397.5 196.1l2.9 2.9l-2.9 2.9l-2.9 -2.9zM397.7 196.3l2.9 2.9l-2.9 2.9l-2.9 -2.9zM398 196.6l2.9 2.9l-2.9 2.9l-2.9 -2.9zM398.2 196.9l2.9 2.9l-2.9 2.9l-2.9 -2.9zM398.4 197.1l2.9 2.9l-2.9 2.9l-2.9 -2.9zM398.7 197.4l2.9 2.9l-2.9 2.9l-2.9 -2.9zM398.9 197.6l2.9 2.9l-2.9 2.9l-2.9 -2.9zM399.2 197.9l2.9 2.9l-2.9 2.9l-2.9 -2.9zM399.4 198.1l2.9 2.9l-2.9 2.9l-2.9 -2.9zM399.6 198.3l2.9 2.9l-2.9 2.9l-2.9 -2.9zM399.9 198.5l2.9 2.9l-2.9 2.9l-2.9 -2.9zM400.1 198.7l2.9 2.9l-2.9 2.9l-2.9 -2.9zM400.3 198.8l2.9 2.9l-2.9 2.9l-2.9 -2.9zM400.5 198.9l2.9 2.9l-2.9 2.9l-2.9 -2.9zM400.8 199l2.9 2.9l-2.9 2.9l-2.9 -2.9zM401 199.1l2.9 2.9l-2.9 2.9l-2.9 -2.9zM401.2 199.2l2.9 2.9l-2.9 2.9l-2.9 -2.9zM401.5 199.3l2.9 2.9l-2.9 2.9l-2.9 -2.9zM401.7 199.4l2.9 2.9l-2.9 2.9l-2.9 -2.9zM401.9 199.4l2.9 2.9l-2.9 2.9l-2.9 -2.9zM402.1 199.5l2.9 2.9l-2.9 2.9l-2.9 -2.9zM402.3 199.5l2.9 2.9l-2.9 2.9l-2.9 -2.9zM402.6 199.6l2.9 2.9l-2.9 2.9l-2.9 -2.9zM402.8 199.7l2.9 2.9l-2.9 2.9l-2.9 -2.9zM403 199.7l2.9 2.9l-2.9 2.9l-2.9 -2.9zM403.2 199.8l2.9 2.9l-2.9 2.9l-2.9 -2.9zM403.4 199.9l2.9 2.9l-2.9 2.9l-2.9 -2.9zM403.7 200l2.9 2.9l-2.9 2.9l-2.9 -2.9zM403.9 200.1l2.9 2.9l-2.9 2.9l-2.9 -2.9zM404.1 200.3l2.9 2.9l-2.9 2.9l-2.9 -2.9zM404.3 200.4l2.9 2.9l-2.9 2.9l-2.9 -2.9zM404.5 200.5l2.9 2.9l-2.9 2.9l-2.9 -2.9zM404.7 200.7l2.9 2.9l-2.9 2.9l-2.9 -2.9zM405 200.8l2.9 2.9l-2.9 2.9l-2.9 -2.9zM405.2 201l2.9 2.9l-2.9 2.9l-2.9 -2.9zM405.4 201.1l2.9 2.9l-2.9 2.9l-2.9 -2.9zM405.6 201.3l2.9 2.9l-2.9 2.9l-2.9 -2.9zM405.8 201.4l2.9 2.9l-2.9 2.9l-2.9 -2.9zM406 201.5l2.9 2.9l-2.9 2.9l-2.9 -2.9zM406.2 201.6l2.9 2.9l-2.9 2.9l-2.9 -2.9zM406.4 201.8l2.9 2.9l-2.9 2.9l-2.9 -2.9zM406.6 201.9l2.9 2.9l-2.9 2.9l-2.9 -2.9zM406.8 201.9l2.9 2.9l-2.9 2.9l-2.9 -2.9zM407 202l2.9 2.9l-2.9 2.9l-2.9 -2.9zM407.2 202.1l2.9 2.9l-2.9 2.9l-2.9 -2.9zM407.4 202.2l2.9 2.9l-2.9 2.9l-2.9 -2.9zM407.7 202.2l2.9 2.9l-2.9 2.9l-2.9 -2.9zM407.9 202.3l2.9 2.9l-2.9 2.9l-2.9 -2.9zM408.1 202.3l2.9 2.9l-2.9 2.9l-2.9 -2.9zM408.3 202.4l2.9 2.9l-2.9 2.9l-2.9 -2.9zM408.5 202.4l2.9 2.9l-2.9 2.9l-2.9 -2.9zM408.7 202.5l2.9 2.9l-2.9 2.9l-2.9 -2.9zM408.9 202.5l2.9 2.9l-2.9 2.9l-2.9 -2.9zM409.1 202.6l2.9 2.9l-2.9 2.9l-2.9 -2.9zM409.3 202.7l2.9 2.9l-2.9 2.9l-2.9 -2.9zM409.5 202.7l2.9 2.9l-2.9 2.9l-2.9 -2.9zM409.7 202.8l2.9 2.9l-2.9 2.9l-2.9 -2.9zM409.8 202.9l2.9 2.9l-2.9 2.9l-2.9 -2.9zM410 203.1l2.9 2.9l-2.9 2.9l-2.9 -2.9zM410.2 203.2l2.9 2.9l-2.9 2.9l-2.9 -2.9zM410.4 203.3l2.9 2.9l-2.9 2.9l-2.9 -2.9zM410.6 203.5l2.9 2.9l-2.9 2.9l-2.9 -2.9zM410.8 203.7l2.9 2.9l-2.9 2.9l-2.9 -2.9zM411 203.9l2.9 2.9l-2.9 2.9l-2.9 -2.9zM411.2 204l2.9 2.9l-2.9 2.9l-2.9 -2.9zM411.4 204.2l2.9 2.9l-2.9 2.9l-2.9 -2.9zM411.6 204.5l2.9 2.9l-2.9 2.9l-2.9 -2.9zM411.8 204.7l2.9 2.9l-2.9 2.9l-2.9 -2.9zM412 204.9l2.9 2.9l-2.9 2.9l-2.9 -2.9zM412.2 205.1l2.9 2.9l-2.9 2.9l-2.9 -2.9zM412.3 205.3l2.9 2.9l-2.9 2.9l-2.9 -2.9zM412.5 205.5l2.9 2.9l-2.9 2.9l-2.9 -2.9zM412.7 205.7l2.9 2.9l-2.9 2.9l-2.9 -2.9zM412.9 205.9l2.9 2.9l-2.9 2.9l-2.9 -2.9zM413.1 206.1l2.9 2.9l-2.9 2.9l-2.9 -2.9zM413.3 206.3l2.9 2.9l-2.9 2.9l-2.9 -2.9zM413.5 206.5l2.9 2.9l-2.9 2.9l-2.9 -2.9zM413.6 206.6l2.9 2.9l-2.9 2.9l-2.9 -2.9zM413.8 206.8l2.9 2.9l-2.9 2.9l-2.9 -2.9zM414 206.9l2.9 2.9l-2.9 2.9l-2.9 -2.9zM414.2 207l2.9 2.9l-2.9 2.9l-2.9 -2.9zM414.4 207.1l2.9 2.9l-2.9 2.9l-2.9 -2.9zM414.6 207.2l2.9 2.9l-2.9 2.9l-2.9 -2.9zM414.7 207.3l2.9 2.9l-2.9 2.9l-2.9 -2.9zM414.9 207.4l2.9 2.9l-2.9 2.9l-2.9 -2.9zM415.1 207.5l2.9 2.9l-2.9 2.9l-2.9 -2.9zM415.3 207.5l2.9 2.9l-2.9 2.9l-2.9 -2.9zM415.5 207.6l2.9 2.9l-2.9 2.9l-2.9 -2.9zM415.6 207.7l2.9 2.9l-2.9 2.9l-2.9 -2.9zM415.8 207.7l2.9 2.9l-2.9 2.9l-2.9 -2.9zM416 207.8l2.9 2.9l-2.9 2.9l-2.9 -2.9zM416.2 207.8l2.9 2.9l-2.9 2.9l-2.9 -2.9zM416.3 207.9l2.9 2.9l-2.9 2.9l-2.9 -2.9zM416.5 208l2.9 2.9l-2.9 2.9l-2.9 -2.9zM416.7 208l2.9 2.9l-2.9 2.9l-2.9 -2.9zM416.9 208.1l2.9 2.9l-2.9 2.9l-2.9 -2.9zM417.1 208.2l2.9 2.9l-2.9 2.9l-2.9 -2.9zM417.2 208.3l2.9 2.9l-2.9 2.9l-2.9 -2.9zM417.4 208.3l2.9 2.9l-2.9 2.9l-2.9 -2.9zM417.6 208.4l2.9 2.9l-2.9 2.9l-2.9 -2.9zM417.7 208.5l2.9 2.9l-2.9 2.9l-2.9 -2.9zM417.9 208.6l2.9 2.9l-2.9 2.9l-2.9 -2.9zM418.1 208.8l2.9 2.9l-2.9 2.9l-2.9 -2.9zM418.3 208.9l2.9 2.9l-2.9 2.9l-2.9 -2.9zM418.4 209l2.9 2.9l-2.9 2.9l-2.9 -2.9zM418.6 209.1l2.9 2.9l-2.9 2.9l-2.9 -2.9zM418.8 209.2l2.9 2.9l-2.9 2.9l-2.9 -2.9zM418.9 209.4l2.9 2.9l-2.9 2.9l-2.9 -2.9zM419.1 209.5l2.9 2.9l-2.9 2.9l-2.9 -2.9zM419.3 209.6l2.9 2.9l-2.9 2.9l-2.9 -2.9zM419.4 209.7l2.9 2.9l-2.9 2.9l-2.9 -2.9zM419.6 209.8l2.9 2.9l-2.9 2.9l-2.9 -2.9zM419.8 210l2.9 2.9l-2.9 2.9l-2.9 -2.9zM419.9 210.1l2.9 2.9l-2.9 2.9l-2.9 -2.9zM420.1 210.2l2.9 2.9l-2.9 2.9l-2.9 -2.9zM420.3 210.3l2.9 2.9l-2.9 2.9l-2.9 -2.9zM420.4 210.4l2.9 2.9l-2.9 2.9l-2.9 -2.9zM420.6 210.4l2.9 2.9l-2.9 2.9l-2.9 -2.9zM420.8 210.5l2.9 2.9l-2.9 2.9l-2.9 -2.9zM420.9 210.6l2.9 2.9l-2.9 2.9l-2.9 -2.9zM421.1 210.7l2.9 2.9l-2.9 2.9l-2.9 -2.9zM421.3 210.7l2.9 2.9l-2.9 2.9l-2.9 -2.9zM421.4 210.8l2.9 2.9l-2.9 2.9l-2.9 -2.9zM421.6 210.9l2.9 2.9l-2.9 2.9l-2.9 -2.9zM421.7 210.9l2.9 2.9l-2.9 2.9l-2.9 -2.9zM421.9 211l2.9 2.9l-2.9 2.9l-2.9 -2.9zM422.1 211l2.9 2.9l-2.9 2.9l-2.9 -2.9zM422.2 211.1l2.9 2.9l-2.9 2.9l-2.9 -2.9zM422.4 211.2l2.9 2.9l-2.9 2.9l-2.9 -2.9zM422.5 211.2l2.9 2.9l-2.9 2.9l-2.9 -2.9zM422.7 211.3l2.9 2.9l-2.9 2.9l-2.9 -2.9zM422.9 211.4l2.9 2.9l-2.9 2.9l-2.9 -2.9zM423 211.5l2.9 2.9l-2.9 2.9l-2.9 -2.9zM423.2 211.5l2.9 2.9l-2.9 2.9l-2.9 -2.9zM423.3 211.6l2.9 2.9l-2.9 2.9l-2.9 -2.9zM423.5 211.7l2.9 2.9l-2.9 2.9l-2.9 -2.9zM423.6 211.9l2.9 2.9l-2.9 2.9l-2.9 -2.9zM423.8 212l2.9 2.9l-2.9 2.9l-2.9 -2.9zM424 212.1l2.9 2.9l-2.9 2.9l-2.9 -2.9zM424.1 212.3l2.9 2.9l-2.9 2.9l-2.9 -2.9zM424.3 212.4l2.9 2.9l-2.9 2.9l-2.9 -2.9zM424.4 212.6l2.9 2.9l-2.9 2.9l-2.9 -2.9zM424.6 212.8l2.9 2.9l-2.9 2.9l-2.9 -2.9zM424.7 213l2.9 2.9l-2.9 2.9l-2.9 -2.9zM424.9 213.1l2.9 2.9l-2.9 2.9l-2.9 -2.9zM425 213.3l2.9 2.9l-2.9 2.9l-2.9 -2.9zM425.2 213.6l2.9 2.9l-2.9 2.9l-2.9 -2.9zM425.3 213.8l2.9 2.9l-2.9 2.9l-2.9 -2.9zM425.5 214l2.9 2.9l-2.9 2.9l-2.9 -2.9zM425.6 214.2l2.9 2.9l-2.9 2.9l-2.9 -2.9zM425.8 214.4l2.9 2.9l-2.9 2.9l-2.9 -2.9zM425.9 214.7l2.9 2.9l-2.9 2.9l-2.9 -2.9zM426.1 214.9l2.9 2.9l-2.9 2.9l-2.9 -2.9zM426.2 215.1l2.9 2.9l-2.9 2.9l-2.9 -2.9zM426.4 215.3l2.9 2.9l-2.9 2.9l-2.9 -2.9zM426.5 215.3l2.9 2.9l-2.9 2.9l-2.9 -2.9zM426.7 215.3l2.9 2.9l-2.9 2.9l-2.9 -2.9zM426.8 216.4l2.9 2.9l-2.9 2.9l-2.9 -2.9zM427 216.4l2.9 2.9l-2.9 2.9l-2.9 -2.9zM427.1 216.4l2.9 2.9l-2.9 2.9l-2.9 -2.9zM427.3 216.4l2.9 2.9l-2.9 2.9l-2.9 -2.9zM427.4 216.4l2.9 2.9l-2.9 2.9l-2.9 -2.9zM427.6 216.4l2.9 2.9l-2.9 2.9l-2.9 -2.9zM427.7 217.6l2.9 2.9l-2.9 2.9l-2.9 -2.9zM427.9 217.6l2.9 2.9l-2.9 2.9l-2.9 -2.9zM428 217.6l2.9 2.9l-2.9 2.9l-2.9 -2.9zM428.2 217.6l2.9 2.9l-2.9 2.9l-2.9 -2.9zM428.3 217.6l2.9 2.9l-2.9 2.9l-2.9 -2.9zM428.4 217.6l2.9 2.9l-2.9 2.9l-2.9 -2.9zM428.6 217.6l2.9 2.9l-2.9 2.9l-2.9 -2.9zM428.7 218.9l2.9 2.9l-2.9 2.9l-2.9 -2.9zM428.9 218.9l2.9 2.9l-2.9 2.9l-2.9 -2.9zM429 218.9l2.9 2.9l-2.9 2.9l-2.9 -2.9zM429.2 218.9l2.9 2.9l-2.9 2.9l-2.9 -2.9zM429.3 218.9l2.9 2.9l-2.9 2.9l-2.9 -2.9zM429.4 218.9l2.9 2.9l-2.9 2.9l-2.9 -2.9zM429.6 218.9l2.9 2.9l-2.9 2.9l-2.9 -2.9zM429.7 218.9l2.9 2.9l-2.9 2.9l-2.9 -2.9zM429.9 218.9l2.9 2.9l-2.9 2.9l-2.9 -2.9zM430 218.9l2.9 2.9l-2.9 2.9l-2.9 -2.9zM430.1 220.2l2.9 2.9l-2.9 2.9l-2.9 -2.9zM430.3 220.2l2.9 2.9l-2.9 2.9l-2.9 -2.9zM430.4 220.2l2.9 2.9l-2.9 2.9l-2.9 -2.9zM430.6 220.2l2.9 2.9l-2.9 2.9l-2.9 -2.9zM430.7 220.2l2.9 2.9l-2.9 2.9l-2.9 -2.9zM430.8 220.2l2.9 2.9l-2.9 2.9l-2.9 -2.9zM431 220.2l2.9 2.9l-2.9 2.9l-2.9 -2.9zM431.1 220.2l2.9 2.9l-2.9 2.9l-2.9 -2.9zM431.3 220.2l2.9 2.9l-2.9 2.9l-2.9 -2.9zM431.4 220.2l2.9 2.9l-2.9 2.9l-2.9 -2.9zM431.5 221.6l2.9 2.9l-2.9 2.9l-2.9 -2.9zM431.7 221.6l2.9 2.9l-2.9 2.9l-2.9 -2.9zM431.8 221.6l2.9 2.9l-2.9 2.9l-2.9 -2.9zM431.9 221.6l2.9 2.9l-2.9 2.9l-2.9 -2.9zM432.1 221.6l2.9 2.9l-2.9 2.9l-2.9 -2.9zM432.2 221.6l2.9 2.9l-2.9 2.9l-2.9 -2.9zM432.4 221.6l2.9 2.9l-2.9 2.9l-2.9 -2.9zM432.5 221.6l2.9 2.9l-2.9 2.9l-2.9 -2.9zM432.6 223l2.9 2.9l-2.9 2.9l-2.9 -2.9zM432.8 223l2.9 2.9l-2.9 2.9l-2.9 -2.9zM432.9 223l2.9 2.9l-2.9 2.9l-2.9 -2.9zM433 223l2.9 2.9l-2.9 2.9l-2.9 -2.9zM433.2 223l2.9 2.9l-2.9 2.9l-2.9 -2.9zM433.3 223l2.9 2.9l-2.9 2.9l-2.9 -2.9zM433.4 223l2.9 2.9l-2.9 2.9l-2.9 -2.9zM433.6 223l2.9 2.9l-2.9 2.9l-2.9 -2.9zM433.7 223l2.9 2.9l-2.9 2.9l-2.9 -2.9zM433.8 224.6l2.9 2.9l-2.9 2.9l-2.9 -2.9zM434 224.6l2.9 2.9l-2.9 2.9l-2.9 -2.9zM434.1 224.6l2.9 2.9l-2.9 2.9l-2.9 -2.9zM434.2 224.6l2.9 2.9l-2.9 2.9l-2.9 -2.9zM434.3 224.6l2.9 2.9l-2.9 2.9l-2.9 -2.9zM434.5 224.6l2.9 2.9l-2.9 2.9l-2.9 -2.9zM434.6 224.6l2.9 2.9l-2.9 2.9l-2.9 -2.9zM434.7 224.6l2.9 2.9l-2.9 2.9l-2.9 -2.9zM434.9 224.6l2.9 2.9l-2.9 2.9l-2.9 -2.9zM435 224.6l2.9 2.9l-2.9 2.9l-2.9 -2.9zM435.1 224.6l2.9 2.9l-2.9 2.9l-2.9 -2.9zM435.3 224.6l2.9 2.9l-2.9 2.9l-2.9 -2.9zM435.4 226.2l2.9 2.9l-2.9 2.9l-2.9 -2.9zM435.5 226.2l2.9 2.9l-2.9 2.9l-2.9 -2.9zM435.6 226.2l2.9 2.9l-2.9 2.9l-2.9 -2.9zM435.8 226.2l2.9 2.9l-2.9 2.9l-2.9 -2.9zM435.9 226.2l2.9 2.9l-2.9 2.9l-2.9 -2.9zM436 226.2l2.9 2.9l-2.9 2.9l-2.9 -2.9zM436.2 226.2l2.9 2.9l-2.9 2.9l-2.9 -2.9zM436.3 226.2l2.9 2.9l-2.9 2.9l-2.9 -2.9zM436.4 226.2l2.9 2.9l-2.9 2.9l-2.9 -2.9zM436.5 226.2l2.9 2.9l-2.9 2.9l-2.9 -2.9zM436.7 226.2l2.9 2.9l-2.9 2.9l-2.9 -2.9zM436.8 226.2l2.9 2.9l-2.9 2.9l-2.9 -2.9zM436.9 226.2l2.9 2.9l-2.9 2.9l-2.9 -2.9zM437 226.2l2.9 2.9l-2.9 2.9l-2.9 -2.9zM437.2 226.2l2.9 2.9l-2.9 2.9l-2.9 -2.9zM437.3 226.2l2.9 2.9l-2.9 2.9l-2.9 -2.9zM437.4 227.9l2.9 2.9l-2.9 2.9l-2.9 -2.9zM437.5 227.9l2.9 2.9l-2.9 2.9l-2.9 -2.9zM437.7 227.9l2.9 2.9l-2.9 2.9l-2.9 -2.9zM437.8 227.9l2.9 2.9l-2.9 2.9l-2.9 -2.9zM437.9 227.9l2.9 2.9l-2.9 2.9l-2.9 -2.9zM438 227.9l2.9 2.9l-2.9 2.9l-2.9 -2.9zM438.2 227.9l2.9 2.9l-2.9 2.9l-2.9 -2.9zM438.3 227.9l2.9 2.9l-2.9 2.9l-2.9 -2.9zM438.4 227.9l2.9 2.9l-2.9 2.9l-2.9 -2.9zM438.5 227.9l2.9 2.9l-2.9 2.9l-2.9 -2.9zM438.6 227.9l2.9 2.9l-2.9 2.9l-2.9 -2.9zM438.8 229.7l2.9 2.9l-2.9 2.9l-2.9 -2.9zM438.9 229.7l2.9 2.9l-2.9 2.9l-2.9 -2.9zM439 229.7l2.9 2.9l-2.9 2.9l-2.9 -2.9zM439.1 229.7l2.9 2.9l-2.9 2.9l-2.9 -2.9zM439.2 229.7l2.9 2.9l-2.9 2.9l-2.9 -2.9zM439.4 229.7l2.9 2.9l-2.9 2.9l-2.9 -2.9zM439.5 229.7l2.9 2.9l-2.9 2.9l-2.9 -2.9zM439.6 229.7l2.9 2.9l-2.9 2.9l-2.9 -2.9zM439.7 229.7l2.9 2.9l-2.9 2.9l-2.9 -2.9zM439.8 231.7l2.9 2.9l-2.9 2.9l-2.9 -2.9zM440 231.7l2.9 2.9l-2.9 2.9l-2.9 -2.9zM440.1 231.7l2.9 2.9l-2.9 2.9l-2.9 -2.9zM440.2 231.7l2.9 2.9l-2.9 2.9l-2.9 -2.9zM440.3 231.7l2.9 2.9l-2.9 2.9l-2.9 -2.9zM440.4 231.7l2.9 2.9l-2.9 2.9l-2.9 -2.9zM440.6 231.7l2.9 2.9l-2.9 2.9l-2.9 -2.9zM440.7 231.7l2.9 2.9l-2.9 2.9l-2.9 -2.9zM440.8 231.7l2.9 2.9l-2.9 2.9l-2.9 -2.9zM440.9 233.8l2.9 2.9l-2.9 2.9l-2.9 -2.9zM441 233.8l2.9 2.9l-2.9 2.9l-2.9 -2.9zM441.1 233.8l2.9 2.9l-2.9 2.9l-2.9 -2.9zM441.3 233.8l2.9 2.9l-2.9 2.9l-2.9 -2.9zM441.4 233.8l2.9 2.9l-2.9 2.9l-2.9 -2.9zM441.5 233.8l2.9 2.9l-2.9 2.9l-2.9 -2.9zM441.6 233.8l2.9 2.9l-2.9 2.9l-2.9 -2.9zM441.7 233.8l2.9 2.9l-2.9 2.9l-2.9 -2.9zM441.8 233.8l2.9 2.9l-2.9 2.9l-2.9 -2.9zM442 233.8l2.9 2.9l-2.9 2.9l-2.9 -2.9zM442.1 233.8l2.9 2.9l-2.9 2.9l-2.9 -2.9zM442.2 233.8l2.9 2.9l-2.9 2.9l-2.9 -2.9zM442.3 236l2.9 2.9l-2.9 2.9l-2.9 -2.9zM442.4 236l2.9 2.9l-2.9 2.9l-2.9 -2.9zM442.5 236l2.9 2.9l-2.9 2.9l-2.9 -2.9zM442.7 236l2.9 2.9l-2.9 2.9l-2.9 -2.9zM442.8 236l2.9 2.9l-2.9 2.9l-2.9 -2.9zM442.9 236l2.9 2.9l-2.9 2.9l-2.9 -2.9zM443 236l2.9 2.9l-2.9 2.9l-2.9 -2.9zM443.1 236l2.9 2.9l-2.9 2.9l-2.9 -2.9zM443.2 236l2.9 2.9l-2.9 2.9l-2.9 -2.9zM443.3 236l2.9 2.9l-2.9 2.9l-2.9 -2.9zM443.4 236l2.9 2.9l-2.9 2.9l-2.9 -2.9zM443.6 236l2.9 2.9l-2.9 2.9l-2.9 -2.9zM443.7 236l2.9 2.9l-2.9 2.9l-2.9 -2.9zM443.8 236l2.9 2.9l-2.9 2.9l-2.9 -2.9zM443.9 238.5l2.9 2.9l-2.9 2.9l-2.9 -2.9zM444 238.5l2.9 2.9l-2.9 2.9l-2.9 -2.9zM444.1 238.5l2.9 2.9l-2.9 2.9l-2.9 -2.9zM444.2 238.5l2.9 2.9l-2.9 2.9l-2.9 -2.9zM444.3 238.5l2.9 2.9l-2.9 2.9l-2.9 -2.9zM444.4 238.5l2.9 2.9l-2.9 2.9l-2.9 -2.9zM444.6 238.5l2.9 2.9l-2.9 2.9l-2.9 -2.9zM444.7 238.5l2.9 2.9l-2.9 2.9l-2.9 -2.9zM444.8 238.5l2.9 2.9l-2.9 2.9l-2.9 -2.9zM444.9 238.5l2.9 2.9l-2.9 2.9l-2.9 -2.9zM445 238.5l2.9 2.9l-2.9 2.9l-2.9 -2.9zM445.1 238.5l2.9 2.9l-2.9 2.9l-2.9 -2.9zM445.2 241.2l2.9 2.9l-2.9 2.9l-2.9 -2.9zM445.3 241.2l2.9 2.9l-2.9 2.9l-2.9 -2.9zM445.4 241.2l2.9 2.9l-2.9 2.9l-2.9 -2.9zM445.5 241.2l2.9 2.9l-2.9 2.9l-2.9 -2.9zM445.7 241.2l2.9 2.9l-2.9 2.9l-2.9 -2.9zM445.8 241.2l2.9 2.9l-2.9 2.9l-2.9 -2.9zM445.9 241.2l2.9 2.9l-2.9 2.9l-2.9 -2.9zM446 241.2l2.9 2.9l-2.9 2.9l-2.9 -2.9zM446.1 241.2l2.9 2.9l-2.9 2.9l-2.9 -2.9zM446.2 241.2l2.9 2.9l-2.9 2.9l-2.9 -2.9zM446.3 241.2l2.9 2.9l-2.9 2.9l-2.9 -2.9zM446.4 244.2l2.9 2.9l-2.9 2.9l-2.9 -2.9zM446.5 244.2l2.9 2.9l-2.9 2.9l-2.9 -2.9zM446.6 244.2l2.9 2.9l-2.9 2.9l-2.9 -2.9zM446.7 244.2l2.9 2.9l-2.9 2.9l-2.9 -2.9zM446.8 244.2l2.9 2.9l-2.9 2.9l-2.9 -2.9zM446.9 244.2l2.9 2.9l-2.9 2.9l-2.9 -2.9zM447.1 244.2l2.9 2.9l-2.9 2.9l-2.9 -2.9zM447.2 244.2l2.9 2.9l-2.9 2.9l-2.9 -2.9zM447.3 244.2l2.9 2.9l-2.9 2.9l-2.9 -2.9zM447.4 244.2l2.9 2.9l-2.9 2.9l-2.9 -2.9zM447.5 244.2l2.9 2.9l-2.9 2.9l-2.9 -2.9zM447.6 247.5l2.9 2.9l-2.9 2.9l-2.9 -2.9zM447.7 247.5l2.9 2.9l-2.9 2.9l-2.9 -2.9zM447.8 247.5l2.9 2.9l-2.9 2.9l-2.9 -2.9zM447.9 247.5l2.9 2.9l-2.9 2.9l-2.9 -2.9zM448 247.5l2.9 2.9l-2.9 2.9l-2.9 -2.9zM448.1 247.5l2.9 2.9l-2.9 2.9l-2.9 -2.9zM448.2 247.5l2.9 2.9l-2.9 2.9l-2.9 -2.9zM448.3 247.5l2.9 2.9l-2.9 2.9l-2.9 -2.9zM448.4 247.5l2.9 2.9l-2.9 2.9l-2.9 -2.9zM448.5 247.5l2.9 2.9l-2.9 2.9l-2.9 -2.9zM448.6 247.5l2.9 2.9l-2.9 2.9l-2.9 -2.9zM448.7 247.5l2.9 2.9l-2.9 2.9l-2.9 -2.9zM448.8 251.3l2.9 2.9l-2.9 2.9l-2.9 -2.9zM448.9 251.3l2.9 2.9l-2.9 2.9l-2.9 -2.9zM449 251.3l2.9 2.9l-2.9 2.9l-2.9 -2.9zM449.1 251.3l2.9 2.9l-2.9 2.9l-2.9 -2.9zM449.2 251.3l2.9 2.9l-2.9 2.9l-2.9 -2.9zM449.3 251.3l2.9 2.9l-2.9 2.9l-2.9 -2.9zM449.4 251.3l2.9 2.9l-2.9 2.9l-2.9 -2.9zM449.5 251.3l2.9 2.9l-2.9 2.9l-2.9 -2.9zM449.6 251.3l2.9 2.9l-2.9 2.9l-2.9 -2.9zM449.7 251.3l2.9 2.9l-2.9 2.9l-2.9 -2.9zM449.8 251.3l2.9 2.9l-2.9 2.9l-2.9 -2.9zM450 251.3l2.9 2.9l-2.9 2.9l-2.9 -2.9zM450.1 255.7l2.9 2.9l-2.9 2.9l-2.9 -2.9zM450.2 255.7l2.9 2.9l-2.9 2.9l-2.9 -2.9zM450.3 255.7l2.9 2.9l-2.9 2.9l-2.9 -2.9zM450.4 255.7l2.9 2.9l-2.9 2.9l-2.9 -2.9zM450.5 255.7l2.9 2.9l-2.9 2.9l-2.9 -2.9zM450.6 255.7l2.9 2.9l-2.9 2.9l-2.9 -2.9zM450.7 255.7l2.9 2.9l-2.9 2.9l-2.9 -2.9zM450.8 255.7l2.9 2.9l-2.9 2.9l-2.9 -2.9zM450.9 255.7l2.9 2.9l-2.9 2.9l-2.9 -2.9zM451 255.7l2.9 2.9l-2.9 2.9l-2.9 -2.9zM451.1 260.8l2.9 2.9l-2.9 2.9l-2.9 -2.9zM451.2 260.8l2.9 2.9l-2.9 2.9l-2.9 -2.9zM451.3 260.8l2.9 2.9l-2.9 2.9l-2.9 -2.9zM451.4 260.8l2.9 2.9l-2.9 2.9l-2.9 -2.9zM451.4 260.8l2.9 2.9l-2.9 2.9l-2.9 -2.9zM451.5 260.8l2.9 2.9l-2.9 2.9l-2.9 -2.9zM451.6 260.8l2.9 2.9l-2.9 2.9l-2.9 -2.9zM451.7 260.8l2.9 2.9l-2.9 2.9l-2.9 -2.9zM451.8 260.8l2.9 2.9l-2.9 2.9l-2.9 -2.9zM451.9 267.1l2.9 2.9l-2.9 2.9l-2.9 -2.9zM452 267.1l2.9 2.9l-2.9 2.9l-2.9 -2.9zM452.1 267.1l2.9 2.9l-2.9 2.9l-2.9 -2.9zM452.2 267.1l2.9 2.9l-2.9 2.9l-2.9 -2.9zM452.3 267.1l2.9 2.9l-2.9 2.9l-2.9 -2.9zM452.4 267.1l2.9 2.9l-2.9 2.9l-2.9 -2.9zM452.5 267.1l2.9 2.9l-2.9 2.9l-2.9 -2.9zM452.6 267.1l2.9 2.9l-2.9 2.9l-2.9 -2.9zM452.7 267.1l2.9 2.9l-2.9 2.9l-2.9 -2.9zM452.8 267.1l2.9 2.9l-2.9 2.9l-2.9 -2.9zM452.9 267.1l2.9 2.9l-2.9 2.9l-2.9 -2.9zM453 267.1l2.9 2.9l-2.9 2.9l-2.9 -2.9zM453.1 267.1l2.9 2.9l-2.9 2.9l-2.9 -2.9zM453.2 267.1l2.9 2.9l-2.9 2.9l-2.9 -2.9zM453.3 267.1l2.9 2.9l-2.9 2.9l-2.9 -2.9zM453.4 267.1l2.9 2.9l-2.9 2.9l-2.9 -2.9zM453.5 275.3l2.9 2.9l-2.9 2.9l-2.9 -2.9zM453.6 275.3l2.9 2.9l-2.9 2.9l-2.9 -2.9zM453.7 275.3l2.9 2.9l-2.9 2.9l-2.9 -2.9zM453.8 275.3l2.9 2.9l-2.9 2.9l-2.9 -2.9zM453.9 275.3l2.9 2.9l-2.9 2.9l-2.9 -2.9zM454 275.3l2.9 2.9l-2.9 2.9l-2.9 -2.9zM454.1 275.3l2.9 2.9l-2.9 2.9l-2.9 -2.9zM454.2 275.3l2.9 2.9l-2.9 2.9l-2.9 -2.9zM454.2 275.3l2.9 2.9l-2.9 2.9l-2.9 -2.9zM454.3 275.3l2.9 2.9l-2.9 2.9l-2.9 -2.9zM454.4 275.3l2.9 2.9l-2.9 2.9l-2.9 -2.9zM454.5 275.3l2.9 2.9l-2.9 2.9l-2.9 -2.9zM454.6 275.3l2.9 2.9l-2.9 2.9l-2.9 -2.9zM454.7 275.3l2.9 2.9l-2.9 2.9l-2.9 -2.9zM454.8 275.3l2.9 2.9l-2.9 2.9l-2.9 -2.9zM454.9 275.3l2.9 2.9l-2.9 2.9l-2.9 -2.9zM455 275.3l2.9 2.9l-2.9 2.9l-2.9 -2.9zM455.1 275.3l2.9 2.9l-2.9 2.9l-2.9 -2.9zM455.2 275.3l2.9 2.9l-2.9 2.9l-2.9 -2.9zM455.3 275.3l2.9 2.9l-2.9 2.9l-2.9 -2.9zM455.4 275.3l2.9 2.9l-2.9 2.9l-2.9 -2.9zM455.5 275.3l2.9 2.9l-2.9 2.9l-2.9 -2.9zM455.6 275.3l2.9 2.9l-2.9 2.9l-2.9 -2.9zM455.6 275.3l2.9 2.9l-2.9 2.9l-2.9 -2.9zM455.7 275.3l2.9 2.9l-2.9 2.9l-2.9 -2.9zM455.8 275.3l2.9 2.9l-2.9 2.9l-2.9 -2.9zM455.9 275.3l2.9 2.9l-2.9 2.9l-2.9 -2.9zM456 275.3l2.9 2.9l-2.9 2.9l-2.9 -2.9zM456.1 275.3l2.9 2.9l-2.9 2.9l-2.9 -2.9zM456.2 286.8l2.9 2.9l-2.9 2.9l-2.9 -2.9zM456.3 286.8l2.9 2.9l-2.9 2.9l-2.9 -2.9zM456.4 286.8l2.9 2.9l-2.9 2.9l-2.9 -2.9zM456.5 286.8l2.9 2.9l-2.9 2.9l-2.9 -2.9zM456.6 286.8l2.9 2.9l-2.9 2.9l-2.9 -2.9zM456.6 286.8l2.9 2.9l-2.9 2.9l-2.9 -2.9zM456.7 286.8l2.9 2.9l-2.9 2.9l-2.9 -2.9zM456.8 286.8l2.9 2.9l-2.9 2.9l-2.9 -2.9zM456.9 286.8l2.9 2.9l-2.9 2.9l-2.9 -2.9zM457 286.8l2.9 2.9l-2.9 2.9l-2.9 -2.9zM457.1 286.8l2.9 2.9l-2.9 2.9l-2.9 -2.9zM457.2 286.8l2.9 2.9l-2.9 2.9l-2.9 -2.9zM457.3 286.8l2.9 2.9l-2.9 2.9l-2.9 -2.9zM457.4 306.4l2.9 2.9l-2.9 2.9l-2.9 -2.9zM457.5 306.4l2.9 2.9l-2.9 2.9l-2.9 -2.9zM457.5 306.4l2.9 2.9l-2.9 2.9l-2.9 -2.9zM457.6 306.4l2.9 2.9l-2.9 2.9l-2.9 -2.9zM457.7 306.4l2.9 2.9l-2.9 2.9l-2.9 -2.9zM457.8 306.4l2.9 2.9l-2.9 2.9l-2.9 -2.9zM457.9 306.4l2.9 2.9l-2.9 2.9l-2.9 -2.9z" fill="none" stroke="#00ff00" stroke-width="0.9"/>
<path d="M62.5 29.4l2.7 -4.9h-5.4zM104.5 66l2.7 -4.9h-5.4zM129.1 66.4l2.7 -4.9h-5.4zM146.5 67.6l2.7 -4.9h-5.4zM160 77.8l2.7 -4.9h-5.4zM171.1 82.1l2.7 -4.9h-5.4zM180.4 87.4l2.7 -4.9h-5.4zM188.5 89.6l2.7 -4.9h-5.4zM195.6 91.1l2.7 -4.9h-5.4zM202 92.1l2.7 -4.9h-5.4zM207.8 92.6l2.7 -4.9h-5.4zM213 93.6l2.7 -4.9h-5.4zM217.9 94.9l2.7 -4.9h-5.4zM222.4 96.4l2.7 -4.9h-5.4zM226.6 97.6l2.7 -4.9h-5.4zM230.5 98.7l2.7 -4.9h-5.4zM234.1 99.4l2.7 -4.9h-5.4zM237.6 100.1l2.7 -4.9h-5.4zM240.9 100.7l2.7 -4.9h-5.4zM244 101.2l2.7 -4.9h-5.4zM246.9 101.8l2.7 -4.9h-5.4zM249.8 102.5l2.7 -4.9h-5.4zM252.5 103.2l2.7 -4.9h-5.4zM255 103.9l2.7 -4.9h-5.4zM257.5 104.7l2.7 -4.9h-5.4zM259.9 105.4l2.7 -4.9h-5.4zM262.2 105.5l2.7 -4.9h-5.4zM264.4 106.2l2.7 -4.9h-5.4zM266.5 106.3l2.7 -4.9h-5.4zM268.6 106.9l2.7 -4.9h-5.4zM270.5 108.6l2.7 -4.9h-5.4zM272.5 109.8l2.7 -4.9h-5.4zM274.3 110.2l2.7 -4.9h-5.4zM276.1 110.9l2.7 -4.9h-5.4zM277.9 111.9l2.7 -4.9h-5.4zM279.6 112.4l2.7 -4.9h-5.4zM281.3 112.8l2.7 -4.9h-5.4zM282.9 113.9l2.7 -4.9h-5.4zM284.5 115.5l2.7 -4.9h-5.4zM286 116.7l2.7 -4.9h-5.4zM287.5 117.2l2.7 -4.9h-5.4zM288.9 117.6l2.7 -4.9h-5.4zM290.4 118.2l2.7 -4.9h-5.4zM291.8 118.9l2.7 -4.9h-5.4zM293.1 119.1l2.7 -4.9h-5.4zM294.5 119.1l2.7 -4.9h-5.4zM295.8 119.3l2.7 -4.9h-5.4zM297 120.1l2.7 -4.9h-5.4zM298.3 121.2l2.7 -4.9h-5.4zM299.5 122.2l2.7 -4.9h-5.4zM300.7 122.7l2.7 -4.9h-5.4zM301.9 123l2.7 -4.9h-5.4zM303 123.4l2.7 -4.9h-5.4zM304.2 124.1l2.7 -4.9h-5.4zM305.3 124.8l2.7 -4.9h-5.4zM306.4 125.2l2.7 -4.9h-5.4zM307.4 125.3l2.7 -4.9h-5.4zM308.5 125.4l2.7 -4.9h-5.4zM309.5 125.7l2.7 -4.9h-5.4zM310.6 126.4l2.7 -4.9h-5.4zM311.6 127.4l2.7 -4.9h-5.4zM312.5 128.4l2.7 -4.9h-5.4zM313.5 129.1l2.7 -4.9h-5.4zM314.5 129.6l2.7 -4.9h-5.4zM315.4 130l2.7 -4.9h-5.4zM316.3 130.4l2.7 -4.9h-5.4zM317.2 131l2.7 -4.9h-5.4zM318.1 131.6l2.7 -4.9h-5.4zM319 132.1l2.7 -4.9h-5.4zM319.9 132.5l2.7 -4.9h-5.4zM320.8 132.6l2.7 -4.9h-5.4zM321.6 132.6l2.7 -4.9h-5.4zM322.4 132.6l2.7 -4.9h-5.4zM323.3 132.6l2.7 -4.9h-5.4zM324.1 132.9l2.7 -4.9h-5.4zM324.9 133.5l2.7 -4.9h-5.4zM325.7 134.1l2.7 -4.9h-5.4zM326.4 134.7l2.7 -4.9h-5.4zM327.2 135.2l2.7 -4.9h-5.4zM328 135.5l2.7 -4.9h-5.4zM328.7 135.8l2.7 -4.9h-5.4zM329.5 136l2.7 -4.9h-5.4zM330.2 136.3l2.7 -4.9h-5.4zM330.9 136.7l2.7 -4.9h-5.4zM331.7 137.1l2.7 -4.9h-5.4zM332.4 137.6l2.7 -4.9h-5.4zM333.1 138l2.7 -4.9h-5.4zM333.8 138.2l2.7 -4.9h-5.4zM334.4 138.3l2.7 -4.9h-5.4zM335.1 138.3l2.7 -4.9h-5.4zM335.8 138.3l2.7 -4.9h-5.4zM336.4 138.3l2.7 -4.9h-5.4zM337.1 138.4l2.7 -4.9h-5.4zM337.8 138.6l2.7 -4.9h-5.4zM338.4 139.1l2.7 -4.9h-5.4zM339 139.6l2.7 -4.9h-5.4zM339.7 140.1l2.7 -4.9h-5.4zM340.3 140.7l2.7 -4.9h-5.4zM340.9 141.1l2.7 -4.9h-5.4zM341.5 141.5l2.7 -4.9h-5.4zM342.1 141.8l2.7 -4.9h-5.4zM342.7 142.1l2.7 -4.9h-5.4zM343.3 142.4l2.7 -4.9h-5.4zM343.9 142.7l2.7 -4.9h-5.4zM344.5 143.1l2.7 -4.9h-5.4zM345 143.6l2.7 -4.9h-5.4zM345.6 144.1l2.7 -4.9h-5.4zM346.2 144.6l2.7 -4.9h-5.4zM346.7 145l2.7 -4.9h-5.4zM347.3 145.4l2.7 -4.9h-5.4zM347.8 145.6l2.7 -4.9h-5.4zM348.4 145.7l2.7 -4.9h-5.4zM348.9 145.8l2.7 -4.9h-5.4zM349.4 145.8l2.7 -4.9h-5.4zM350 145.9l2.7 -4.9h-5.4zM350.5 145.9l2.7 -4.9h-5.4zM351 146.1l2.7 -4.9h-5.4zM351.5 146.4l2.7 -4.9h-5.4zM352 146.7l2.7 -4.9h-5.4zM352.5 147.1l2.7 -4.9h-5.4zM353 147.6l2.7 -4.9h-5.4zM353.5 148.1l2.7 -4.9h-5.4zM354 148.5l2.7 -4.9h-5.4zM354.5 148.9l2.7 -4.9h-5.4zM355 149.3l2.7 -4.9h-5.4zM355.5 149.6l2.7 -4.9h-5.4zM356 149.9l2.7 -4.9h-5.4zM356.5 150.1l2.7 -4.9h-5.4zM356.9 150.4l2.7 -4.9h-5.4zM357.4 150.7l2.7 -4.9h-5.4zM357.9 151l2.7 -4.9h-5.4zM358.3 151.4l2.7 -4.9h-5.4zM358.8 151.9l2.7 -4.9h-5.4zM359.2 152.3l2.7 -4.9h-5.4zM359.7 152.8l2.7 -4.9h-5.4zM360.1 153.2l2.7 -4.9h-5.4zM360.6 153.6l2.7 -4.9h-5.4zM361 153.9l2.7 -4.9h-5.4zM361.5 154.1l2.7 -4.9h-5.4zM361.9 154.3l2.7 -4.9h-5.4zM362.3 154.4l2.7 -4.9h-5.4zM362.7 154.5l2.7 -4.9h-5.4zM363.2 154.5l2.7 -4.9h-5.4zM363.6 154.5l2.7 -4.9h-5.4zM364 154.6l2.7 -4.9h-5.4zM364.4 154.7l2.7 -4.9h-5.4zM364.8 154.8l2.7 -4.9h-5.4zM365.3 155l2.7 -4.9h-5.4zM365.7 155.3l2.7 -4.9h-5.4zM366.1 155.6l2.7 -4.9h-5.4zM366.5 155.9l2.7 -4.9h-5.4zM366.9 156.3l2.7 -4.9h-5.4zM367.3 156.6l2.7 -4.9h-5.4zM367.7 157l2.7 -4.9h-5.4zM368.1 157.3l2.7 -4.9h-5.4zM368.4 157.7l2.7 -4.9h-5.4zM368.8 158l2.7 -4.9h-5.4zM369.2 158.3l2.7 -4.9h-5.4zM369.6 158.5l2.7 -4.9h-5.4zM370 158.8l2.7 -4.9h-5.4zM370.4 159.1l2.7 -4.9h-5.4zM370.7 159.4l2.7 -4.9h-5.4zM371.1 159.7l2.7 -4.9h-5.4zM371.5 160.1l2.7 -4.9h-5.4zM371.8 160.5l2.7 -4.9h-5.4zM372.2 160.9l2.7 -4.9h-5.4zM372.6 161.4l2.7 -4.9h-5.4zM372.9 161.9l2.7 -4.9h-5.4zM373.3 162.4l2.7 -4.9h-5.4zM373.6 162.9l2.7 -4.9h-5.4zM374 163.4l2.7 -4.9h-5.4zM374.4 163.9l2.7 -4.9h-5.4zM374.7 164.3l2.7 -4.9h-5.4zM375.1 164.7l2.7 -4.9h-5.4zM375.4 165l2.7 -4.9h-5.4zM375.7 165.2l2.7 -4.9h-5.4zM376.1 165.4l2.7 -4.9h-5.4zM376.4 165.6l2.7 -4.9h-5.4zM376.8 165.8l2.7 -4.9h-5.4zM377.1 165.9l2.7 -4.9h-5.4zM377.4 166l2.7 -4.9h-5.4zM377.8 166.2l2.7 -4.9h-5.4zM378.1 166.3l2.7 -4.9h-5.4zM378.4 166.5l2.7 -4.9h-5.4zM378.8 166.7l2.7 -4.9h-5.4zM379.1 167l2.7 -4.9h-5.4zM379.4 167.3l2.7 -4.9h-5.4zM379.7 167.6l2.7 -4.9h-5.4zM380.1 167.9l2.7 -4.9h-5.4zM380.4 168.3l2.7 -4.9h-5.4zM380.7 168.7l2.7 -4.9h-5.4zM381 169.1l2.7 -4.9h-5.4zM381.3 169.4l2.7 -4.9h-5.4zM381.6 169.8l2.7 -4.9h-5.4zM382 170.2l2.7 -4.9h-5.4zM382.3 170.5l2.7 -4.9h-5.4zM382.6 170.8l2.7 -4.9h-5.4zM382.9 171.1l2.7 -4.9h-5.4zM383.2 171.4l2.7 -4.9h-5.4zM383.5 171.7l2.7 -4.9h-5.4zM383.8 172l2.7 -4.9h-5.4zM384.1 172.3l2.7 -4.9h-5.4zM384.4 172.6l2.7 -4.9h-5.4zM384.7 172.9l2.7 -4.9h-5.4zM385 173.3l2.7 -4.9h-5.4zM385.3 173.6l2.7 -4.9h-5.4zM385.6 174l2.7 -4.9h-5.4zM385.9 174.4l2.7 -4.9h-5.4zM386.2 174.8l2.7 -4.9h-5.4zM386.4 175.3l2.7 -4.9h-5.4zM386.7 175.7l2.7 -4.9h-5.4zM387 176.2l2.7 -4.9h-5.4zM387.3 176.6l2.7 -4.9h-5.4zM387.6 177.1l2.7 -4.9h-5.4zM387.9 177.6l2.7 -4.9h-5.4zM388.2 178l2.7 -4.9h-5.4zM388.4 178.4l2.7 -4.9h-5.4zM388.7 178.8l2.7 -4.9h-5.4zM389 179.2l2.7 -4.9h-5.4zM389.3 179.5l2.7 -4.9h-5.4zM389.5 179.8l2.7 -4.9h-5.4zM389.8 180l2.7 -4.9h-5.4zM390.1 180.2l2.7 -4.9h-5.4zM390.4 180.4l2.7 -4.9h-5.4zM390.6 180.6l2.7 -4.9h-5.4zM390.9 180.7l2.7 -4.9h-5.4zM391.2 180.9l2.7 -4.9h-5.4zM391.4 181l2.7 -4.9h-5.4zM391.7 181.1l2.7 -4.9h-5.4zM392 181.2l2.7 -4.9h-5.4zM392.2 181.4l2.7 -4.9h-5.4zM392.5 181.6l2.7 -4.9h-5.4zM392.7 181.7l2.7 -4.9h-5.4zM393 181.9l2.7 -4.9h-5.4zM393.3 182.1l2.7 -4.9h-5.4zM393.5 182.4l2.7 -4.9h-5.4zM393.8 182.6l2.7 -4.9h-5.4zM394 182.9l2.7 -4.9h-5.4zM394.3 183.1l2.7 -4.9h-5.4zM394.5 183.4l2.7 -4.9h-5.4zM394.8 183.7l2.7 -4.9h-5.4zM395 184l2.7 -4.9h-5.4zM395.3 184.2l2.7 -4.9h-5.4zM395.5 184.5l2.7 -4.9h-5.4zM395.8 184.8l2.7 -4.9h-5.4zM396 185l2.7 -4.9h-5.4zM396.3 185.3l2.7 -4.9h-5.4zM396.5 185.5l2.7 -4.9h-5.4zM396.8 185.8l2.7 -4.9h-5.4zM397 186l2.7 -4.9h-5.4zM397.3 186.2l2.7 -4.9h-5.4zM397.5 186.4l2.7 -4.9h-5.4zM397.7 186.7l2.7 -4.9h-5.4zM398 186.9l2.7 -4.9h-5.4zM398.2 187.2l2.7 -4.9h-5.4zM398.4 187.4l2.7 -4.9h-5.4zM398.7 187.7l2.7 -4.9h-5.4zM398.9 188.1l2.7 -4.9h-5.4zM399.2 188.4l2.7 -4.9h-5.4zM399.4 188.8l2.7 -4.9h-5.4zM399.6 189.1l2.7 -4.9h-5.4zM399.9 189.5l2.7 -4.9h-5.4zM400.1 190l2.7 -4.9h-5.4zM400.3 190.4l2.7 -4.9h-5.4zM400.5 190.9l2.7 -4.9h-5.4zM400.8 191.4l2.7 -4.9h-5.4zM401 191.9l2.7 -4.9h-5.4zM401.2 192.5l2.7 -4.9h-5.4zM401.5 193l2.7 -4.9h-5.4zM401.7 193.5l2.7 -4.9h-5.4zM401.9 194.1l2.7 -4.9h-5.4zM402.1 194.6l2.7 -4.9h-5.4zM402.3 195.1l2.7 -4.9h-5.4zM402.6 195.6l2.7 -4.9h-5.4zM402.8 196l2.7 -4.9h-5.4zM403 196.4l2.7 -4.9h-5.4zM403.2 196.8l2.7 -4.9h-5.4zM403.4 197.2l2.7 -4.9h-5.4zM403.7 197.6l2.7 -4.9h-5.4zM403.9 197.9l2.7 -4.9h-5.4zM404.1 198.3l2.7 -4.9h-5.4zM404.3 198.6l2.7 -4.9h-5.4zM404.5 198.9l2.7 -4.9h-5.4zM404.7 199.3l2.7 -4.9h-5.4zM405 199.6l2.7 -4.9h-5.4zM405.2 199.9l2.7 -4.9h-5.4zM405.4 200.2l2.7 -4.9h-5.4zM405.6 200.5l2.7 -4.9h-5.4zM405.8 200.9l2.7 -4.9h-5.4zM406 201.2l2.7 -4.9h-5.4zM406.2 201.5l2.7 -4.9h-5.4zM406.4 201.9l2.7 -4.9h-5.4zM406.6 202.3l2.7 -4.9h-5.4zM406.8 202.6l2.7 -4.9h-5.4zM407 203l2.7 -4.9h-5.4zM407.2 203.4l2.7 -4.9h-5.4zM407.4 203.8l2.7 -4.9h-5.4zM407.7 204.2l2.7 -4.9h-5.4zM407.9 204.7l2.7 -4.9h-5.4zM408.1 205.1l2.7 -4.9h-5.4zM408.3 205.5l2.7 -4.9h-5.4zM408.5 205.9l2.7 -4.9h-5.4zM408.7 206.3l2.7 -4.9h-5.4zM408.9 206.7l2.7 -4.9h-5.4zM409.1 207.1l2.7 -4.9h-5.4zM409.3 207.5l2.7 -4.9h-5.4zM409.5 207.9l2.7 -4.9h-5.4zM409.7 208.3l2.7 -4.9h-5.4zM409.8 208.7l2.7 -4.9h-5.4zM410 209.1l2.7 -4.9h-5.4zM410.2 209.5l2.7 -4.9h-5.4zM410.4 209.8l2.7 -4.9h-5.4zM410.6 210.2l2.7 -4.9h-5.4zM410.8 210.6l2.7 -4.9h-5.4zM411 211l2.7 -4.9h-5.4zM411.2 211.4l2.7 -4.9h-5.4zM411.4 211.8l2.7 -4.9h-5.4zM411.6 212.3l2.7 -4.9h-5.4zM411.8 212.7l2.7 -4.9h-5.4zM412 213.1l2.7 -4.9h-5.4zM412.2 213.6l2.7 -4.9h-5.4zM412.3 214.1l2.7 -4.9h-5.4zM412.5 214.6l2.7 -4.9h-5.4zM412.7 215.1l2.7 -4.9h-5.4zM412.9 215.6l2.7 -4.9h-5.4zM413.1 216.1l2.7 -4.9h-5.4zM413.3 216.7l2.7 -4.9h-5.4zM413.5 217.2l2.7 -4.9h-5.4zM413.6 217.8l2.7 -4.9h-5.4zM413.8 218.4l2.7 -4.9h-5.4zM414 219l2.7 -4.9h-5.4zM414.2 219.6l2.7 -4.9h-5.4zM414.4 220.2l2.7 -4.9h-5.4zM414.6 220.7l2.7 -4.9h-5.4zM414.7 221.9l2.7 -4.9h-5.4zM414.9 221.9l2.7 -4.9h-5.4zM415.1 223.1l2.7 -4.9h-5.4zM415.3 223.1l2.7 -4.9h-5.4zM415.5 224.4l2.7 -4.9h-5.4zM415.6 224.4l2.7 -4.9h-5.4zM415.8 225.7l2.7 -4.9h-5.4zM416 225.7l2.7 -4.9h-5.4zM416.2 227.1l2.7 -4.9h-5.4zM416.3 227.1l2.7 -4.9h-5.4zM416.5 228.5l2.7 -4.9h-5.4zM416.7 228.5l2.7 -4.9h-5.4zM416.9 228.5l2.7 -4.9h-5.4zM417.1 230l2.7 -4.9h-5.4zM417.2 230l2.7 -4.9h-5.4zM417.4 231.7l2.7 -4.9h-5.4zM417.6 231.7l2.7 -4.9h-5.4zM417.7 231.7l2.7 -4.9h-5.4zM417.9 233.4l2.7 -4.9h-5.4zM418.1 233.4l2.7 -4.9h-5.4zM418.3 233.4l2.7 -4.9h-5.4zM418.4 235.2l2.7 -4.9h-5.4zM418.6 235.2l2.7 -4.9h-5.4zM418.8 235.2l2.7 -4.9h-5.4zM418.9 235.2l2.7 -4.9h-5.4zM419.1 237.2l2.7 -4.9h-5.4zM419.3 237.2l2.7 -4.9h-5.4zM419.4 237.2l2.7 -4.9h-5.4zM419.6 239.3l2.7 -4.9h-5.4zM419.8 239.3l2.7 -4.9h-5.4zM419.9 239.3l2.7 -4.9h-5.4zM420.1 241.5l2.7 -4.9h-5.4zM420.3 241.5l2.7 -4.9h-5.4zM420.4 241.5l2.7 -4.9h-5.4zM420.6 241.5l2.7 -4.9h-5.4zM420.8 244l2.7 -4.9h-5.4zM420.9 244l2.7 -4.9h-5.4zM421.1 244l2.7 -4.9h-5.4zM421.3 246.7l2.7 -4.9h-5.4zM421.4 246.7l2.7 -4.9h-5.4zM421.6 246.7l2.7 -4.9h-5.4zM421.7 246.7l2.7 -4.9h-5.4zM421.9 249.7l2.7 -4.9h-5.4zM422.1 249.7l2.7 -4.9h-5.4zM422.2 249.7l2.7 -4.9h-5.4zM422.4 249.7l2.7 -4.9h-5.4zM422.5 253l2.7 -4.9h-5.4zM422.7 253l2.7 -4.9h-5.4zM422.9 253l2.7 -4.9h-5.4zM423 253l2.7 -4.9h-5.4zM423.2 253l2.7 -4.9h-5.4zM423.3 256.8l2.7 -4.9h-5.4zM423.5 256.8l2.7 -4.9h-5.4zM423.6 256.8l2.7 -4.9h-5.4zM423.8 256.8l2.7 -4.9h-5.4zM424 256.8l2.7 -4.9h-5.4zM424.1 261.2l2.7 -4.9h-5.4zM424.3 261.2l2.7 -4.9h-5.4zM424.4 261.2l2.7 -4.9h-5.4zM424.6 261.2l2.7 -4.9h-5.4zM424.7 261.2l2.7 -4.9h-5.4zM424.9 261.2l2.7 -4.9h-5.4zM425 266.3l2.7 -4.9h-5.4zM425.2 266.3l2.7 -4.9h-5.4zM425.3 266.3l2.7 -4.9h-5.4zM425.5 266.3l2.7 -4.9h-5.4zM425.6 266.3l2.7 -4.9h-5.4zM425.8 266.3l2.7 -4.9h-5.4zM425.9 272.6l2.7 -4.9h-5.4zM426.1 272.6l2.7 -4.9h-5.4zM426.2 272.6l2.7 -4.9h-5.4zM426.4 272.6l2.7 -4.9h-5.4zM426.5 272.6l2.7 -4.9h-5.4zM426.7 272.6l2.7 -4.9h-5.4zM426.8 272.6l2.7 -4.9h-5.4zM427 280.8l2.7 -4.9h-5.4zM427.1 280.8l2.7 -4.9h-5.4zM427.3 280.8l2.7 -4.9h-5.4zM427.4 280.8l2.7 -4.9h-5.4zM427.6 280.8l2.7 -4.9h-5.4zM427.7 280.8l2.7 -4.9h-5.4zM427.9 280.8l2.7 -4.9h-5.4zM428 280.8l2.7 -4.9h-5.4zM428.2 280.8l2.7 -4.9h-5.4zM428.3 292.3l2.7 -4.9h-5.4zM428.4 292.3l2.7 -4.9h-5.4zM428.6 292.3l2.7 -4.9h-5.4zM428.7 292.3l2.7 -4.9h-5.4zM428.9 292.3l2.7 -4.9h-5.4zM429 292.3l2.7 -4.9h-5.4zM429.2 292.3l2.7 -4.9h-5.4zM429.3 311.9l2.7 -4.9h-5.4zM429.4 311.9l2.7 -4.9h-5.4zM429.6 311.9l2.7 -4.9h-5.4zM429.7 311.9l2.7 -4.9h-5.4zM429.9 311.9l2.7 -4.9h-5.4zM430 311.9l2.7 -4.9h-5.4z" fill="none" stroke="#ffa500" stroke-width="0.9"/>
<path d="M62.5 81.3L65.2 81.9L67.9 82.5L70.6 83L73.3 83.6L76 84.2L78.7 84.7L81.4 85.3L84.1 85.9L86.8 86.4L89.5 87L92.1 87.6L94.8 88.1L97.5 88.7L100.2 89.3L102.9 89.9L105.6 90.4L108.3 91L111 91.6L113.7 92.1L116.4 92.7L119.1 93.3L121.8 93.9L124.5 94.5L127.2 95L129.9 95.6L132.6 96.2L135.3 96.8L138 97.4L140.7 97.9L143.4 98.5L146 99.1L148.7 99.7L151.4 100.3L154.1 100.9L156.8 101.5L159.5 102.1L162.2 102.7L164.9 103.3L167.6 103.9L170.3 104.5L173 105.1L175.7 105.7L178.4 106.3L181.1 106.9L183.8 107.5L186.5 108.1L189.2 108.7L191.9 109.3L194.6 110L197.3 110.6L200 111.2L202.6 111.9L205.3 112.5L208 113.1L210.7 113.8L213.4 114.4L216.1 115.1L218.8 115.7L221.5 116.4L224.2 117L226.9 117.7L229.6 118.4L232.3 119.1L235 119.8L237.7 120.5L240.4 121.2L243.1 121.9L245.8 122.6L248.5 123.3L251.2 124L253.9 124.8L256.5 125.5L259.2 126.3L261.9 127L264.6 127.8L267.3 128.6L270 129.4L272.7 130.2L275.4 131.1L278.1 131.9L280.8 132.8L283.5 133.6L286.2 134.5L288.9 135.5L291.6 136.4L294.3 137.3L297 138.3L299.7 139.3L302.4 140.3L305.1 141.4L307.8 142.5L310.4 143.6L313.1 144.8L315.8 146L318.5 147.2L321.2 148.5L323.9 149.8L326.6 151.2L329.3 152.6L332 154.1L334.7 155.7L337.4 157.4L340.1 159.1L342.8 160.9L345.5 162.9L348.2 165L350.9 167.2L353.6 169.6L356.3 172.1L359 174.9L361.7 178L364.4 181.4L367 185.2L369.7 189.4L372.4 194.3L375.1 200.1L377.8 207.1L380.5 216L383.2 228.1L383.2 228.1L383.3 228.3L383.3 228.5L383.3 228.7L383.4 228.9L383.4 229.1L383.4 229.3L383.5 229.4L383.5 229.6L383.5 229.8L383.6 230L383.6 230.2L383.6 230.4L383.7 230.6L383.7 230.8L383.7 231L383.8 231.2L383.8 231.4L383.8 231.6L383.9 231.8L383.9 232L383.9 232.2L384 232.4L384 232.6L384 232.8L384.1 233L384.1 233.2L384.1 233.4L384.2 233.6L384.2 233.8L384.2 234.1L384.3 234.3L384.3 234.5L384.3 234.7L384.4 234.9L384.4 235.1L384.4 235.4L384.5 235.6L384.5 235.8L384.5 236L384.6 236.3L384.6 236.5L384.6 236.7L384.7 236.9L384.7 237.2L384.7 237.4L384.8 237.6L384.8 237.9L384.8 238.1L384.9 238.4L384.9 238.6L384.9 238.8L385 239.1L385 239.3L385 239.6L385 239.8L385.1 240.1L385.1 240.3L385.1 240.6L385.2 240.8L385.2 241.1L385.2 241.4L385.3 241.6L385.3 241.9L385.3 242.1L385.4 242.4L385.4 242.7L385.4 243L385.5 243.2L385.5 243.5L385.5 243.8L385.6 244.1L385.6 244.3L385.6 244.6L385.7 244.9L385.7 245.2L385.7 245.5L385.8 245.8L385.8 246.1L385.8 246.4L385.9 246.7L385.9 247L385.9 247.3L386 247.6L386 247.9L386 248.2L386.1 248.5L386.1 248.8L386.1 249.1L386.2 249.5L386.2 249.8L386.2 250.1L386.3 250.5L386.3 250.8L386.3 251.1L386.3 251.5L386.4 251.8L386.4 252.2L386.4 252.5L386.5 252.9L386.5 253.2L386.5 253.6L386.6 254L386.6 254.3L386.6 254.7L386.7 255.1L386.7 255.5L386.7 255.8L386.8 256.2L386.8 256.6L386.8 257L386.9 257.4L386.9 257.8L386.9 258.2L387 258.6L387 259.1L387 259.5L387.1 259.9L387.1 260.4L387.1 260.8L387.1 261.2L387.2 261.7L387.2 262.2L387.2 262.6L387.3 263.1L387.3 263.6L387.3 264L387.4 264.5L387.4 265L387.4 265.5L387.5 266L387.5 266.6L387.5 267.1L387.6 267.6L387.6 268.2L387.6 268.7L387.7 269.3L387.7 269.8L387.7 270.4L387.7 271L387.8 271.6L387.8 272.2L387.8 272.8L387.9 273.4L387.9 274.1L387.9 274.7L388 275.4L388 276L388 276.7L388.1 277.4L388.1 278.1L388.1 278.9L388.2 279.6L388.2 280.4L388.2 281.1L388.2 281.9L388.3 282.7L388.3 283.6L388.3 284.4L388.4 285.3L388.4 286.2L388.4 287.1L388.5 288L388.5 289L388.5 290L388.6 291L388.6 292.1L388.6 293.1L388.6 294.2L388.7 295.4L388.7 296.6L388.7 297.8L388.8 299.1L388.8 300.4L388.8 301.8L388.9 303.2L388.9 304.7L388.9 306.3L389 307.9L389 309.3" fill="none" stroke="#0000ff" stroke-width="1.55" stroke-linejoin="round"/>
<path d="M62.5 82.2L65.8 83.3L69 84.4L72.3 85.5L75.6 86.6L78.8 87.7L82.1 88.8L85.3 89.9L88.6 91L91.9 92.1L95.1 93.2L98.4 94.3L101.7 95.4L104.9 96.5L108.2 97.6L111.4 98.7L114.7 99.8L118 100.9L121.2 102L124.5 103.1L127.8 104.2L131 105.3L134.3 106.4L137.6 107.5L140.8 108.6L144.1 109.7L147.3 110.8L150.6 111.9L153.9 113L157.1 114.1L160.4 115.3L163.7 116.4L166.9 117.5L170.2 118.6L173.4 119.7L176.7 120.8L180 121.9L183.2 123L186.5 124.1L189.8 125.2L193 126.3L196.3 127.4L199.6 128.5L202.8 129.6L206.1 130.7L209.3 131.9L212.6 133L215.9 134.1L219.1 135.2L222.4 136.3L225.7 137.4L228.9 138.5L232.2 139.7L235.4 140.8L238.7 141.9L242 143L245.2 144.1L248.5 145.3L251.8 146.4L255 147.5L258.3 148.6L261.6 149.8L264.8 150.9L268.1 152L271.3 153.2L274.6 154.3L277.9 155.4L281.1 156.6L284.4 157.7L287.7 158.9L290.9 160L294.2 161.2L297.4 162.3L300.7 163.5L304 164.6L307.2 165.8L310.5 167L313.8 168.1L317 169.3L320.3 170.5L323.6 171.7L326.8 172.9L330.1 174.1L333.3 175.3L336.6 176.5L339.9 177.7L343.1 178.9L346.4 180.2L349.7 181.4L352.9 182.7L356.2 183.9L359.4 185.2L362.7 186.5L366 187.8L369.2 189.1L372.5 190.5L375.8 191.8L379 193.2L382.3 194.6L385.6 196L388.8 197.4L392.1 198.9L395.3 200.4L398.6 201.9L401.9 203.5L405.1 205.1L408.4 206.8L411.7 208.5L414.9 210.3L418.2 212.2L421.4 214.2L424.7 216.3L428 218.5L431.2 220.9L434.5 223.5L437.8 226.4L441 229.6L444.3 233.5L447.6 238.2L450.8 244.7L450.8 244.7L450.9 244.7L450.9 244.8L450.9 244.9L451 245L451 245.1L451 245.2L451.1 245.2L451.1 245.3L451.1 245.4L451.2 245.5L451.2 245.6L451.2 245.7L451.3 245.7L451.3 245.8L451.3 245.9L451.4 246L451.4 246.1L451.4 246.2L451.5 246.3L451.5 246.4L451.5 246.4L451.6 246.5L451.6 246.6L451.6 246.7L451.7 246.8L451.7 246.9L451.7 247L451.8 247.1L451.8 247.2L451.8 247.3L451.9 247.4L451.9 247.4L451.9 247.5L452 247.6L452 247.7L452 247.8L452.1 247.9L452.1 248L452.1 248.1L452.2 248.2L452.2 248.3L452.2 248.4L452.3 248.5L452.3 248.6L452.3 248.7L452.4 248.8L452.4 248.9L452.4 249L452.5 249.1L452.5 249.2L452.5 249.3L452.6 249.4L452.6 249.5L452.6 249.6L452.6 249.7L452.7 249.9L452.7 250L452.7 250.1L452.8 250.2L452.8 250.3L452.8 250.4L452.9 250.5L452.9 250.6L452.9 250.7L453 250.8L453 251L453 251.1L453.1 251.2L453.1 251.3L453.1 251.4L453.2 251.5L453.2 251.7L453.2 251.8L453.3 251.9L453.3 252L453.3 252.1L453.4 252.3L453.4 252.4L453.4 252.5L453.5 252.6L453.5 252.8L453.5 252.9L453.6 253L453.6 253.2L453.6 253.3L453.7 253.4L453.7 253.6L453.7 253.7L453.8 253.8L453.8 254L453.8 254.1L453.9 254.2L453.9 254.4L453.9 254.5L453.9 254.7L454 254.8L454 255L454 255.1L454.1 255.3L454.1 255.4L454.1 255.6L454.2 255.7L454.2 255.9L454.2 256L454.3 256.2L454.3 256.3L454.3 256.5L454.4 256.7L454.4 256.8L454.4 257L454.5 257.1L454.5 257.3L454.5 257.5L454.6 257.7L454.6 257.8L454.6 258L454.7 258.2L454.7 258.4L454.7 258.5L454.7 258.7L454.8 258.9L454.8 259.1L454.8 259.3L454.9 259.5L454.9 259.7L454.9 259.9L455 260.1L455 260.3L455 260.5L455.1 260.7L455.1 260.9L455.1 261.1L455.2 261.3L455.2 261.6L455.2 261.8L455.3 262L455.3 262.3L455.3 262.5L455.3 262.7L455.4 263L455.4 263.2L455.4 263.5L455.5 263.7L455.5 264L455.5 264.2L455.6 264.5L455.6 264.8L455.6 265.1L455.7 265.3L455.7 265.6L455.7 265.9L455.8 266.2L455.8 266.5L455.8 266.8L455.8 267.2L455.9 267.5L455.9 267.8L455.9 268.2L456 268.5L456 268.9L456 269.3L456.1 269.6L456.1 270L456.1 270.4L456.2 270.8L456.2 271.3L456.2 271.7L456.2 272.1L456.3 272.6L456.3 273.1L456.3 273.6L456.4 274.1L456.4 274.6L456.4 275.2L456.5 275.7L456.5 276.3L456.5 277L456.6 277.6L456.6 278.3L456.6 279L456.6 279.8L456.7 280.6L456.7 281.4L456.7 282.3L456.8 283.3L456.8 284.3L456.8 285.4L456.9 286.6L456.9 288L456.9 289.4L457 291L457 292.9L457 295L457 297.6L457.1 300.6L457.1 304.6L457.1 309.3" fill="none" stroke="#00ff00" stroke-width="1.55" stroke-linejoin="round"/>
<path d="M62.5 49.9L65.4 51.1L68.2 52.2L71.1 53.4L73.9 54.6L76.8 55.8L79.6 57L82.5 58.1L85.4 59.3L88.2 60.5L91.1 61.7L93.9 62.9L96.8 64L99.7 65.2L102.5 66.4L105.4 67.6L108.2 68.8L111.1 70L113.9 71.1L116.8 72.3L119.7 73.5L122.5 74.7L125.4 75.9L128.2 77.1L131.1 78.3L134 79.4L136.8 80.6L139.7 81.8L142.5 83L145.4 84.2L148.2 85.4L151.1 86.6L154 87.8L156.8 89L159.7 90.1L162.5 91.3L165.4 92.5L168.3 93.7L171.1 94.9L174 96.1L176.8 97.3L179.7 98.5L182.5 99.7L185.4 100.9L188.3 102.1L191.1 103.3L194 104.5L196.8 105.7L199.7 106.9L202.5 108.2L205.4 109.4L208.3 110.6L211.1 111.8L214 113L216.8 114.2L219.7 115.4L222.6 116.7L225.4 117.9L228.3 119.1L231.1 120.3L234 121.6L236.8 122.8L239.7 124L242.6 125.3L245.4 126.5L248.3 127.8L251.1 129L254 130.3L256.9 131.6L259.7 132.8L262.6 134.1L265.4 135.4L268.3 136.6L271.1 137.9L274 139.2L276.9 140.5L279.7 141.8L282.6 143.1L285.4 144.4L288.3 145.8L291.1 147.1L294 148.4L296.9 149.8L299.7 151.2L302.6 152.5L305.4 153.9L308.3 155.3L311.2 156.7L314 158.2L316.9 159.6L319.7 161L322.6 162.5L325.4 164L328.3 165.5L331.2 167.1L334 168.6L336.9 170.2L339.7 171.8L342.6 173.5L345.5 175.2L348.3 176.9L351.2 178.6L354 180.4L356.9 182.3L359.7 184.2L362.6 186.2L365.5 188.3L368.3 190.4L371.2 192.7L374 195L376.9 197.5L379.8 200.2L382.6 203L385.5 206.1L388.3 209.5L391.2 213.3L394 217.6L396.9 222.6L399.8 228.9L402.6 237.2L402.6 237.2L402.7 237.3L402.7 237.5L402.7 237.6L402.8 237.7L402.8 237.8L402.8 237.9L402.9 238.1L402.9 238.2L402.9 238.3L403 238.4L403 238.5L403 238.7L403.1 238.8L403.1 238.9L403.1 239L403.2 239.2L403.2 239.3L403.2 239.4L403.3 239.5L403.3 239.7L403.3 239.8L403.4 239.9L403.4 240.1L403.4 240.2L403.5 240.3L403.5 240.5L403.5 240.6L403.6 240.7L403.6 240.9L403.6 241L403.7 241.1L403.7 241.3L403.7 241.4L403.8 241.5L403.8 241.7L403.8 241.8L403.9 242L403.9 242.1L403.9 242.2L404 242.4L404 242.5L404 242.7L404.1 242.8L404.1 243L404.1 243.1L404.2 243.3L404.2 243.4L404.2 243.6L404.3 243.7L404.3 243.9L404.3 244L404.4 244.2L404.4 244.3L404.4 244.5L404.4 244.6L404.5 244.8L404.5 244.9L404.5 245.1L404.6 245.3L404.6 245.4L404.6 245.6L404.7 245.8L404.7 245.9L404.7 246.1L404.8 246.2L404.8 246.4L404.8 246.6L404.9 246.8L404.9 246.9L404.9 247.1L405 247.3L405 247.4L405 247.6L405.1 247.8L405.1 248L405.1 248.2L405.2 248.3L405.2 248.5L405.2 248.7L405.3 248.9L405.3 249.1L405.3 249.3L405.4 249.5L405.4 249.7L405.4 249.8L405.5 250L405.5 250.2L405.5 250.4L405.6 250.6L405.6 250.8L405.6 251L405.7 251.2L405.7 251.4L405.7 251.7L405.7 251.9L405.8 252.1L405.8 252.3L405.8 252.5L405.9 252.7L405.9 252.9L405.9 253.2L406 253.4L406 253.6L406 253.9L406.1 254.1L406.1 254.3L406.1 254.6L406.2 254.8L406.2 255L406.2 255.3L406.3 255.5L406.3 255.8L406.3 256L406.4 256.3L406.4 256.5L406.4 256.8L406.5 257.1L406.5 257.3L406.5 257.6L406.5 257.9L406.6 258.1L406.6 258.4L406.6 258.7L406.7 259L406.7 259.3L406.7 259.6L406.8 259.9L406.8 260.2L406.8 260.5L406.9 260.8L406.9 261.1L406.9 261.4L407 261.7L407 262.1L407 262.4L407.1 262.7L407.1 263.1L407.1 263.4L407.1 263.8L407.2 264.1L407.2 264.5L407.2 264.9L407.3 265.2L407.3 265.6L407.3 266L407.4 266.4L407.4 266.8L407.4 267.2L407.5 267.6L407.5 268.1L407.5 268.5L407.6 269L407.6 269.4L407.6 269.9L407.6 270.4L407.7 270.8L407.7 271.3L407.7 271.9L407.8 272.4L407.8 272.9L407.8 273.5L407.9 274L407.9 274.6L407.9 275.2L408 275.8L408 276.4L408 277.1L408 277.7L408.1 278.4L408.1 279.1L408.1 279.9L408.2 280.6L408.2 281.4L408.2 282.2L408.3 283.1L408.3 284L408.3 284.9L408.4 285.9L408.4 286.9L408.4 288L408.4 289.1L408.5 290.3L408.5 291.5L408.5 292.9L408.6 294.3L408.6 295.9L408.6 297.5L408.7 299.3L408.7 301.3L408.7 303.5L408.8 305.9L408.8 308.7L408.8 309.3" fill="none" stroke="#ff0000" stroke-width="1.55" stroke-linejoin="round"/>
<path d="M62.5 35.2L65.5 36.3L68.6 37.4L71.6 38.5L74.6 39.7L77.6 40.8L80.7 41.9L83.7 43L86.7 44.1L89.8 45.2L92.8 46.3L95.8 47.4L98.8 48.5L101.9 49.6L104.9 50.7L107.9 51.8L110.9 52.9L114 54.1L117 55.2L120 56.3L123.1 57.4L126.1 58.5L129.1 59.6L132.1 60.7L135.2 61.8L138.2 62.9L141.2 64.1L144.3 65.2L147.3 66.3L150.3 67.4L153.3 68.5L156.4 69.6L159.4 70.8L162.4 71.9L165.4 73L168.5 74.1L171.5 75.2L174.5 76.3L177.6 77.5L180.6 78.6L183.6 79.7L186.6 80.8L189.7 82L192.7 83.1L195.7 84.2L198.8 85.3L201.8 86.5L204.8 87.6L207.8 88.7L210.9 89.9L213.9 91L216.9 92.1L219.9 93.3L223 94.4L226 95.6L229 96.7L232.1 97.9L235.1 99L238.1 100.2L241.1 101.3L244.2 102.5L247.2 103.7L250.2 104.8L253.3 106L256.3 107.2L259.3 108.3L262.3 109.5L265.4 110.7L268.4 111.9L271.4 113.1L274.5 114.3L277.5 115.5L280.5 116.7L283.5 117.9L286.6 119.1L289.6 120.3L292.6 121.6L295.6 122.8L298.7 124.1L301.7 125.3L304.7 126.6L307.8 127.9L310.8 129.2L313.8 130.5L316.8 131.8L319.9 133.1L322.9 134.4L325.9 135.8L329 137.2L332 138.5L335 139.9L338 141.4L341.1 142.8L344.1 144.3L347.1 145.8L350.1 147.3L353.2 148.8L356.2 150.4L359.2 152L362.3 153.7L365.3 155.4L368.3 157.1L371.3 158.9L374.4 160.8L377.4 162.7L380.4 164.7L383.5 166.7L386.5 168.9L389.5 171.2L392.5 173.6L395.6 176.2L398.6 178.9L401.6 181.9L404.6 185.2L407.7 188.7L410.7 192.8L413.7 197.5L416.8 203L419.8 210L422.8 219.5L422.8 219.5L422.9 219.6L422.9 219.7L422.9 219.9L423 220L423 220.1L423 220.3L423.1 220.4L423.1 220.5L423.1 220.6L423.2 220.8L423.2 220.9L423.2 221.1L423.3 221.2L423.3 221.3L423.3 221.5L423.4 221.6L423.4 221.7L423.4 221.9L423.5 222L423.5 222.2L423.5 222.3L423.6 222.4L423.6 222.6L423.6 222.7L423.7 222.9L423.7 223L423.7 223.2L423.8 223.3L423.8 223.5L423.8 223.6L423.9 223.8L423.9 223.9L423.9 224.1L424 224.2L424 224.4L424 224.5L424.1 224.7L424.1 224.8L424.1 225L424.2 225.1L424.2 225.3L424.2 225.4L424.3 225.6L424.3 225.8L424.3 225.9L424.4 226.1L424.4 226.2L424.4 226.4L424.5 226.6L424.5 226.7L424.5 226.9L424.6 227.1L424.6 227.2L424.6 227.4L424.6 227.6L424.7 227.8L424.7 227.9L424.7 228.1L424.8 228.3L424.8 228.5L424.8 228.6L424.9 228.8L424.9 229L424.9 229.2L425 229.4L425 229.5L425 229.7L425.1 229.9L425.1 230.1L425.1 230.3L425.2 230.5L425.2 230.7L425.2 230.9L425.3 231.1L425.3 231.3L425.3 231.5L425.4 231.7L425.4 231.9L425.4 232.1L425.5 232.3L425.5 232.5L425.5 232.7L425.6 232.9L425.6 233.1L425.6 233.3L425.7 233.5L425.7 233.8L425.7 234L425.8 234.2L425.8 234.4L425.8 234.6L425.9 234.9L425.9 235.1L425.9 235.3L425.9 235.6L426 235.8L426 236L426 236.3L426.1 236.5L426.1 236.7L426.1 237L426.2 237.2L426.2 237.5L426.2 237.7L426.3 238L426.3 238.3L426.3 238.5L426.4 238.8L426.4 239L426.4 239.3L426.5 239.6L426.5 239.9L426.5 240.1L426.6 240.4L426.6 240.7L426.6 241L426.7 241.3L426.7 241.6L426.7 241.9L426.7 242.2L426.8 242.5L426.8 242.8L426.8 243.1L426.9 243.4L426.9 243.7L426.9 244.1L427 244.4L427 244.7L427 245.1L427.1 245.4L427.1 245.7L427.1 246.1L427.2 246.5L427.2 246.8L427.2 247.2L427.3 247.6L427.3 247.9L427.3 248.3L427.3 248.7L427.4 249.1L427.4 249.5L427.4 249.9L427.5 250.4L427.5 250.8L427.5 251.2L427.6 251.7L427.6 252.1L427.6 252.6L427.7 253L427.7 253.5L427.7 254L427.8 254.5L427.8 255L427.8 255.5L427.8 256L427.9 256.6L427.9 257.1L427.9 257.7L428 258.3L428 258.9L428 259.5L428.1 260.1L428.1 260.7L428.1 261.4L428.2 262.1L428.2 262.8L428.2 263.5L428.2 264.2L428.3 265L428.3 265.8L428.3 266.6L428.4 267.5L428.4 268.3L428.4 269.3L428.5 270.2L428.5 271.2L428.5 272.2L428.6 273.3L428.6 274.5L428.6 275.6L428.6 276.9L428.7 278.2L428.7 279.6L428.7 281.1L428.8 282.7L428.8 284.4L428.8 286.3L428.9 288.3L428.9 290.5L428.9 292.9L429 295.7L429 298.8L429 302.3L429 306.5L429.1 309.3" fill="none" stroke="#ffa500" stroke-width="1.55" stroke-linejoin="round"/>
<path d="M112.7 41.7H192.5V67.6" fill="none" stroke="#111" stroke-width="1.35"/>
<g stroke="#000" stroke-width="1" fill="none">
<rect x="62.5" y="17" width="418.5" height="292.3"/>
<path d="M62.5 309.3v-8.6M62.5 17v8.6M104.5 309.3v-4.4M104.5 17v4.4M129.1 309.3v-4.4M129.1 17v4.4M146.5 309.3v-4.4M146.5 17v4.4M160 309.3v-4.4M160 17v4.4M171.1 309.3v-4.4M171.1 17v4.4M180.4 309.3v-4.4M180.4 17v4.4M188.5 309.3v-4.4M188.5 17v4.4M195.6 309.3v-4.4M195.6 17v4.4M202 309.3v-8.6M202 17v8.6M244 309.3v-4.4M244 17v4.4M268.6 309.3v-4.4M268.6 17v4.4M286 309.3v-4.4M286 17v4.4M299.5 309.3v-4.4M299.5 17v4.4M310.6 309.3v-4.4M310.6 17v4.4M319.9 309.3v-4.4M319.9 17v4.4M328 309.3v-4.4M328 17v4.4M335.1 309.3v-4.4M335.1 17v4.4M341.5 309.3v-8.6M341.5 17v8.6M383.5 309.3v-4.4M383.5 17v4.4M408.1 309.3v-4.4M408.1 17v4.4M425.5 309.3v-4.4M425.5 17v4.4M439 309.3v-4.4M439 17v4.4M450.1 309.3v-4.4M450.1 17v4.4M459.4 309.3v-4.4M459.4 17v4.4M467.5 309.3v-4.4M467.5 17v4.4M474.6 309.3v-4.4M474.6 17v4.4M481 309.3v-8.6M481 17v8.6M62.5 309.3h8.6M481 309.3h-8.6M62.5 289.7h4.4M481 289.7h-4.4M62.5 278.2h4.4M481 278.2h-4.4M62.5 270h4.4M481 270h-4.4M62.5 263.7h4.4M481 263.7h-4.4M62.5 258.6h4.4M481 258.6h-4.4M62.5 254.2h4.4M481 254.2h-4.4M62.5 250.4h4.4M481 250.4h-4.4M62.5 247.1h4.4M481 247.1h-4.4M62.5 244.1h8.6M481 244.1h-8.6M62.5 224.5h4.4M481 224.5h-4.4M62.5 213h4.4M481 213h-4.4M62.5 204.8h4.4M481 204.8h-4.4M62.5 198.5h4.4M481 198.5h-4.4M62.5 193.4h4.4M481 193.4h-4.4M62.5 189h4.4M481 189h-4.4M62.5 185.2h4.4M481 185.2h-4.4M62.5 181.9h4.4M481 181.9h-4.4M62.5 178.9h8.6M481 178.9h-8.6M62.5 159.3h4.4M481 159.3h-4.4M62.5 147.8h4.4M481 147.8h-4.4M62.5 139.6h4.4M481 139.6h-4.4M62.5 133.3h4.4M481 133.3h-4.4M62.5 128.2h4.4M481 128.2h-4.4M62.5 123.8h4.4M481 123.8h-4.4M62.5 120h4.4M481 120h-4.4M62.5 116.7h4.4M481 116.7h-4.4M62.5 113.7h8.6M481 113.7h-8.6M62.5 94.1h4.4M481 94.1h-4.4M62.5 82.6h4.4M481 82.6h-4.4M62.5 74.4h4.4M481 74.4h-4.4M62.5 68.1h4.4M481 68.1h-4.4M62.5 63h4.4M481 63h-4.4M62.5 58.6h4.4M481 58.6h-4.4M62.5 54.8h4.4M481 54.8h-4.4M62.5 51.5h4.4M481 51.5h-4.4M62.5 48.5h8.6M481 48.5h-8.6M62.5 28.9h4.4M481 28.9h-4.4M62.5 17.4h4.4M481 17.4h-4.4"/>
</g>
<rect x="188" y="192.4" width="142.4" height="94.4" fill="#fff" stroke="#000" stroke-width="1"/>
<path d="M204.4 205.5a2.7 2.7 0 1 0 5.4 0a2.7 2.7 0 1 0 -5.4 0" fill="none" stroke="#0000ff" stroke-width="1"/>
<text x="230.6" y="208.1" class="lg">EW</text>
<path d="M204.7 222.3h4.8v4.8h-4.8z" fill="none" stroke="#000000" stroke-width="1"/>
<text x="230.6" y="228.2" class="lg">ACG</text>
<text x="290.2" y="228.2" class="lg">(108)</text>
<path d="M207.1 239.4l2.8 2.8l-2.8 2.8l-2.8 -2.8z" fill="none" stroke="#00ff00" stroke-width="1"/>
<text x="230.6" y="245.8" class="lg">MLC</text>
<text x="291.5" y="245.8" class="lg">(107)</text>
<path d="M207.1 257.2l2.6 4.7h-5.2z" fill="none" stroke="#ff0000" stroke-width="1"/>
<text x="230.6" y="263.5" class="lg">PWA</text>
<text x="292.5" y="263.5" class="lg">(103)</text>
<path d="M207.1 280l2.6 -4.7h-5.2z" fill="none" stroke="#ffa500" stroke-width="1"/>
<text x="230.6" y="281.2" class="lg">BV</text>
<text x="290.8" y="281.2" class="lg">(176)</text>
<text x="265.3" y="208.1" class="lg">(<tspan font-style="italic">h</tspan><tspan font-style="italic" font-size="11" dy="6" dx="1.2">i</tspan><tspan dy="-6" dx="-1.5"> = 121)</tspan></text>
<text x="62.5" y="334" class="tk" text-anchor="middle">10<tspan font-size="12.5" dy="-10">0</tspan></text>
<text x="202" y="334" class="tk" text-anchor="middle">10<tspan font-size="12.5" dy="-10">1</tspan></text>
<text x="341.5" y="334" class="tk" text-anchor="middle">10<tspan font-size="12.5" dy="-10">2</tspan></text>
<text x="481" y="334" class="tk" text-anchor="middle">10<tspan font-size="12.5" dy="-10">3</tspan></text>
<text x="58.9" y="318.9" class="tk" text-anchor="end">10<tspan font-size="13" dy="-10.8">0</tspan></text>
<text x="58.9" y="253.7" class="tk" text-anchor="end">10<tspan font-size="13" dy="-10.8">1</tspan></text>
<text x="58.9" y="188.5" class="tk" text-anchor="end">10<tspan font-size="13" dy="-10.8">2</tspan></text>
<text x="58.9" y="123.3" class="tk" text-anchor="end">10<tspan font-size="13" dy="-10.8">3</tspan></text>
<text x="58.9" y="58.1" class="tk" text-anchor="end">10<tspan font-size="13" dy="-10.8">4</tspan></text>
<text x="220.8" y="351.5" class="ax">paper rank, <tspan font-style="italic">r</tspan></text>
<text transform="translate(20.8 227.8) rotate(-90)" class="ay">citations, <tspan font-style="italic">c</tspan><tspan font-style="italic" font-size="15.5" dy="6.5">i</tspan><tspan dy="-6.5" dx="-0.6">(</tspan><tspan font-style="italic">r</tspan>)</text>
<text x="205.7" y="59.6" font-size="20">&#946;<tspan font-style="italic" font-size="15" dy="7.2">i</tspan></text>
<text x="86.2" y="148.7" font-size="17">H<tspan font-size="12" dy="7.5">80</tspan></text>
<text x="86.4" y="189.7" font-size="17">H<tspan font-size="12" dy="7.5">20</tspan></text>
<text x="89" y="231.1" font-size="17">H<tspan font-size="12" dy="7">5</tspan></text>
<text x="87.5" y="264.6" font-size="17">H<tspan font-size="12" dy="7">2</tspan></text>
<text x="89.2" y="287.4" font-size="11.8">H<tspan font-size="8" dy="4.5">1</tspan></text>
</svg>
</body></html>
